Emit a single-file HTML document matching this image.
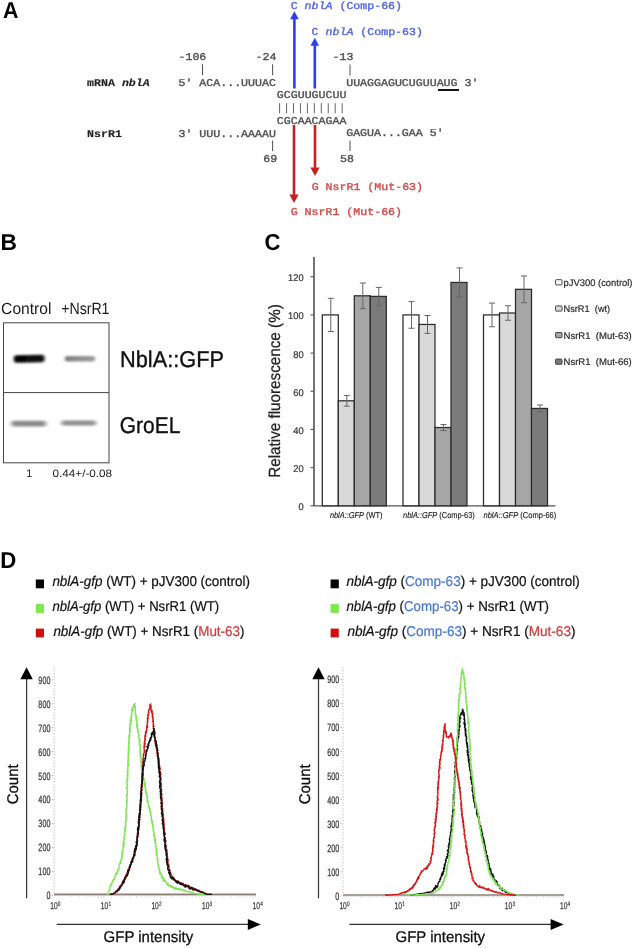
<!DOCTYPE html>
<html><head><meta charset="utf-8"><style>
html,body{margin:0;padding:0;background:#fff;}
svg{display:block;text-rendering:geometricPrecision;filter:blur(0.45px);}
</style></head><body>
<svg width="636" height="948" viewBox="0 0 636 948">
<rect width="636" height="948" fill="#fff"/>
<text x="0" y="0" font-family="'Liberation Sans', sans-serif" font-size="23" fill="#000" font-weight="bold" transform="translate(2.9,17.8) scale(0.93,1)">A</text>
<text x="0" y="0" font-family="'Liberation Sans', sans-serif" font-size="23" fill="#000" font-weight="bold" transform="translate(0.5,250.0) scale(0.99,1)">B</text>
<text x="0" y="0" font-family="'Liberation Sans', sans-serif" font-size="23" fill="#000" font-weight="bold" transform="translate(264.6,249.7) scale(0.96,1)">C</text>
<text x="0" y="0" font-family="'Liberation Sans', sans-serif" font-size="23" fill="#000" font-weight="bold" transform="translate(0.3,568.2) scale(0.965,1)">D</text>
<text x="0" y="0" font-family="'Liberation Mono', monospace" font-size="11.6" fill="#5266e0" stroke="#5266e0" stroke-width="0.4" transform="translate(290.7,8.9) scale(1,0.9)">C <tspan font-style="italic">nblA</tspan> (Comp-66)</text>
<text x="0" y="0" font-family="'Liberation Mono', monospace" font-size="11.6" fill="#5266e0" stroke="#5266e0" stroke-width="0.4" transform="translate(311.6,34.7) scale(1,0.9)">C <tspan font-style="italic">nblA</tspan> (Comp-63)</text>
<text x="0" y="0" font-family="'Liberation Mono', monospace" font-size="11.6" fill="#505050" stroke="#505050" stroke-width="0.4" transform="translate(178.5,59.6) scale(1,0.9)">-106</text>
<text x="0" y="0" font-family="'Liberation Mono', monospace" font-size="11.6" fill="#505050" stroke="#505050" stroke-width="0.4" transform="translate(255.5,59.6) scale(1,0.9)">-24</text>
<text x="0" y="0" font-family="'Liberation Mono', monospace" font-size="11.6" fill="#505050" stroke="#505050" stroke-width="0.4" transform="translate(332.5,60.0) scale(1,0.9)">-13</text>
<line x1="202.5" y1="64.3" x2="202.5" y2="75.2" stroke="#505050" stroke-width="1"/>
<line x1="272.6" y1="64.3" x2="272.6" y2="75.2" stroke="#505050" stroke-width="1"/>
<line x1="350" y1="64.6" x2="350" y2="75.5" stroke="#505050" stroke-width="1"/>
<line x1="272.6" y1="140.6" x2="272.6" y2="151" stroke="#505050" stroke-width="1"/>
<line x1="350" y1="140.6" x2="350" y2="151" stroke="#505050" stroke-width="1"/>
<text x="0" y="0" font-family="'Liberation Mono', monospace" font-size="11.6" fill="#222" font-weight="bold" stroke-opacity="0.4" stroke="#222" stroke-width="0.4" transform="translate(87.1,85.8) scale(1,0.9)">mRNA <tspan font-style="italic">nblA</tspan></text>
<text x="0" y="0" font-family="'Liberation Mono', monospace" font-size="11.6" fill="#505050" stroke="#505050" stroke-width="0.4" transform="translate(178.5,85.8) scale(1,0.9)">5' ACA...UUUAC</text>
<text x="0" y="0" font-family="'Liberation Mono', monospace" font-size="11.6" fill="#505050" stroke="#505050" stroke-width="0.4" transform="translate(346.2,85.5) scale(1,0.9)">UUAGGAGUCUGUUAUG 3'</text>
<rect x="438" y="89" width="21" height="2" fill="#111"/>
<text x="0" y="0" font-family="'Liberation Mono', monospace" font-size="11.6" fill="#505050" stroke="#505050" stroke-width="0.4" transform="translate(276.8,98.0) scale(1,0.9)">GCGUUGUCUU</text>
<line x1="279.60" y1="103.2" x2="279.60" y2="113.3" stroke="#666" stroke-width="1"/>
<line x1="286.55" y1="103.2" x2="286.55" y2="113.3" stroke="#666" stroke-width="1"/>
<line x1="293.50" y1="103.2" x2="293.50" y2="113.3" stroke="#666" stroke-width="1"/>
<line x1="300.45" y1="103.2" x2="300.45" y2="113.3" stroke="#666" stroke-width="1"/>
<line x1="307.40" y1="103.2" x2="307.40" y2="113.3" stroke="#666" stroke-width="1"/>
<line x1="314.35" y1="103.2" x2="314.35" y2="113.3" stroke="#666" stroke-width="1"/>
<line x1="321.30" y1="103.2" x2="321.30" y2="113.3" stroke="#666" stroke-width="1"/>
<line x1="328.25" y1="103.2" x2="328.25" y2="113.3" stroke="#666" stroke-width="1"/>
<line x1="335.20" y1="103.2" x2="335.20" y2="113.3" stroke="#666" stroke-width="1"/>
<line x1="342.15" y1="103.2" x2="342.15" y2="113.3" stroke="#666" stroke-width="1"/>
<text x="0" y="0" font-family="'Liberation Mono', monospace" font-size="11.6" fill="#505050" stroke="#505050" stroke-width="0.4" transform="translate(276.8,123.7) scale(1,0.9)">CGCAACAGAA</text>
<text x="0" y="0" font-family="'Liberation Mono', monospace" font-size="11.6" fill="#222" font-weight="bold" stroke-opacity="0.4" stroke="#222" stroke-width="0.4" transform="translate(87.1,136.5) scale(1,0.9)">NsrR1</text>
<text x="0" y="0" font-family="'Liberation Mono', monospace" font-size="11.6" fill="#505050" stroke="#505050" stroke-width="0.4" transform="translate(178.5,136.8) scale(1,0.9)">3' UUU...AAAAU</text>
<text x="0" y="0" font-family="'Liberation Mono', monospace" font-size="11.6" fill="#505050" stroke="#505050" stroke-width="0.4" transform="translate(346.2,136.4) scale(1,0.9)">GAGUA...GAA 5'</text>
<text x="0" y="0" font-family="'Liberation Mono', monospace" font-size="11.6" fill="#505050" stroke="#505050" stroke-width="0.4" transform="translate(263.2,161.6) scale(1,0.9)">69</text>
<text x="0" y="0" font-family="'Liberation Mono', monospace" font-size="11.6" fill="#505050" stroke="#505050" stroke-width="0.4" transform="translate(340.0,161.6) scale(1,0.9)">58</text>
<text x="0" y="0" font-family="'Liberation Mono', monospace" font-size="11.6" fill="#d44848" stroke="#d44848" stroke-width="0.4" transform="translate(311.7,190.0) scale(1,0.9)">G NsrR1 (Mut-63)</text>
<text x="0" y="0" font-family="'Liberation Mono', monospace" font-size="11.6" fill="#d44848" stroke="#d44848" stroke-width="0.4" transform="translate(290.7,215.0) scale(1,0.9)">G NsrR1 (Mut-66)</text>
<line x1="294.4" y1="88.5" x2="294.4" y2="18.8" stroke="#2a3ff0" stroke-width="2.6"/><polygon points="290.09999999999997,19.3 298.7,19.3 294.4,11.3" fill="#2a3ff0"/>
<line x1="314.8" y1="88.5" x2="314.8" y2="45.2" stroke="#2a3ff0" stroke-width="2.6"/><polygon points="310.5,45.7 319.1,45.7 314.8,37.7" fill="#2a3ff0"/>
<line x1="294.0" y1="125.0" x2="294.0" y2="194.9" stroke="#c81e1e" stroke-width="2.6"/><polygon points="289.4,194.4 298.6,194.4 294.0,203.0" fill="#c81e1e"/>
<line x1="315.0" y1="125.0" x2="315.0" y2="167.9" stroke="#c81e1e" stroke-width="2.6"/><polygon points="310.4,167.4 319.6,167.4 315.0,176.0" fill="#c81e1e"/>
<text x="1.1" y="314.0" font-family="'Liberation Sans', sans-serif" font-size="16.2" fill="#1a1a1a" textLength="50.4" lengthAdjust="spacingAndGlyphs">Control</text>
<text x="61.2" y="314.0" font-family="'Liberation Sans', sans-serif" font-size="16.2" fill="#1a1a1a" textLength="48.3" lengthAdjust="spacingAndGlyphs">+NsrR1</text>
<defs><filter id="blur1" x="-50%" y="-100%" width="200%" height="300%"><feGaussianBlur stdDeviation="1.6 1.3"/></filter><filter id="blur2" x="-50%" y="-100%" width="200%" height="300%"><feGaussianBlur stdDeviation="2.0 1.2"/></filter></defs>
<rect x="3.5" y="322.8" width="105.5" height="140" fill="#fff" stroke="#444" stroke-width="1"/>
<line x1="3.5" y1="392.6" x2="109" y2="392.6" stroke="#444" stroke-width="1"/>
<defs><linearGradient id="g2" x1="0" x2="1" y1="0" y2="0"><stop offset="0" stop-color="#7a7a7a"/><stop offset="0.35" stop-color="#8c8c8c"/><stop offset="1" stop-color="#9a9a9a"/></linearGradient><linearGradient id="g1" x1="0" x2="1" y1="0" y2="0"><stop offset="0" stop-color="#000"/><stop offset="1" stop-color="#111"/></linearGradient></defs>
<rect x="13.8" y="355.0" width="30.8" height="7.6" rx="3" fill="url(#g1)" filter="url(#blur1)" transform="rotate(-1.2 29 359)"/>
<rect x="64.8" y="356.0" width="30.4" height="5.6" rx="2.5" fill="url(#g2)" filter="url(#blur1)"/>
<rect x="11.5" y="420.8" width="34.5" height="5.6" rx="2" fill="#8a8a8a" filter="url(#blur2)"/>
<rect x="61.5" y="420.4" width="34.5" height="5.2" rx="2" fill="#8e8e8e" filter="url(#blur2)"/>
<text x="120.0" y="366.7" font-family="'Liberation Sans', sans-serif" font-size="22.8" fill="#111" textLength="104" lengthAdjust="spacingAndGlyphs" stroke="#111" stroke-width="0.35">NblA::GFP</text>
<text x="119.8" y="432.8" font-family="'Liberation Sans', sans-serif" font-size="22.8" fill="#111" textLength="60.5" lengthAdjust="spacingAndGlyphs" stroke="#111" stroke-width="0.35">GroEL</text>
<text x="26.3" y="477.0" font-family="'Liberation Sans', sans-serif" font-size="10.8" fill="#222">1</text>
<text x="52.6" y="477.0" font-family="'Liberation Sans', sans-serif" font-size="10.8" fill="#222" textLength="59.5" lengthAdjust="spacingAndGlyphs">0.44+/-0.08</text>
<line x1="314" y1="257" x2="314" y2="505.8" stroke="#5a5a5a" stroke-width="1.7"/>
<line x1="313.7" y1="505.8" x2="555.5" y2="505.8" stroke="#555" stroke-width="1.2"/>
<line x1="310.5" y1="505.80" x2="313.7" y2="505.80" stroke="#555" stroke-width="1.1"/>
<text x="303.6" y="510.3" font-family="'Liberation Sans', sans-serif" font-size="9.8" fill="#333" textLength="5.2" lengthAdjust="spacingAndGlyphs" text-anchor="end" stroke="#333" stroke-width="0.2">0</text>
<line x1="310.5" y1="467.62" x2="313.7" y2="467.62" stroke="#555" stroke-width="1.1"/>
<text x="303.6" y="472.12" font-family="'Liberation Sans', sans-serif" font-size="9.8" fill="#333" textLength="10.4" lengthAdjust="spacingAndGlyphs" text-anchor="end" stroke="#333" stroke-width="0.2">20</text>
<line x1="310.5" y1="429.44" x2="313.7" y2="429.44" stroke="#555" stroke-width="1.1"/>
<text x="303.6" y="433.94" font-family="'Liberation Sans', sans-serif" font-size="9.8" fill="#333" textLength="10.4" lengthAdjust="spacingAndGlyphs" text-anchor="end" stroke="#333" stroke-width="0.2">40</text>
<line x1="310.5" y1="391.26" x2="313.7" y2="391.26" stroke="#555" stroke-width="1.1"/>
<text x="303.6" y="395.76" font-family="'Liberation Sans', sans-serif" font-size="9.8" fill="#333" textLength="10.4" lengthAdjust="spacingAndGlyphs" text-anchor="end" stroke="#333" stroke-width="0.2">60</text>
<line x1="310.5" y1="353.08" x2="313.7" y2="353.08" stroke="#555" stroke-width="1.1"/>
<text x="303.6" y="357.58" font-family="'Liberation Sans', sans-serif" font-size="9.8" fill="#333" textLength="10.4" lengthAdjust="spacingAndGlyphs" text-anchor="end" stroke="#333" stroke-width="0.2">80</text>
<line x1="310.5" y1="314.90" x2="313.7" y2="314.90" stroke="#555" stroke-width="1.1"/>
<text x="303.6" y="319.4" font-family="'Liberation Sans', sans-serif" font-size="9.8" fill="#333" textLength="15.600000000000001" lengthAdjust="spacingAndGlyphs" text-anchor="end" stroke="#333" stroke-width="0.2">100</text>
<line x1="310.5" y1="276.72" x2="313.7" y2="276.72" stroke="#555" stroke-width="1.1"/>
<text x="303.6" y="281.22" font-family="'Liberation Sans', sans-serif" font-size="9.8" fill="#333" textLength="15.600000000000001" lengthAdjust="spacingAndGlyphs" text-anchor="end" stroke="#333" stroke-width="0.2">120</text>
<text x="0" y="0" font-family="'Liberation Sans', sans-serif" font-size="16.2" fill="#222" textLength="173.5" lengthAdjust="spacingAndGlyphs" text-anchor="middle" stroke="#222" stroke-width="0.25" transform="translate(279.6,391) rotate(-90)">Relative fluorescence (%)</text>
<rect x="322.30" y="314.90" width="16.0" height="190.90" fill="#ffffff" stroke="#2a2a2a" stroke-width="1.25"/>
<rect x="338.30" y="400.81" width="16.0" height="105.00" fill="#d9d9d9" stroke="#2a2a2a" stroke-width="1.25"/>
<rect x="354.30" y="295.81" width="16.0" height="209.99" fill="#a6a6a6" stroke="#2a2a2a" stroke-width="1.25"/>
<rect x="370.30" y="296.38" width="16.0" height="209.42" fill="#7b7b7b" stroke="#2a2a2a" stroke-width="1.25"/>
<rect x="403.00" y="314.90" width="16.0" height="190.90" fill="#ffffff" stroke="#2a2a2a" stroke-width="1.25"/>
<rect x="419.00" y="324.45" width="16.0" height="181.35" fill="#d9d9d9" stroke="#2a2a2a" stroke-width="1.25"/>
<rect x="435.00" y="427.53" width="16.0" height="78.27" fill="#a6a6a6" stroke="#2a2a2a" stroke-width="1.25"/>
<rect x="451.00" y="282.45" width="16.0" height="223.35" fill="#7b7b7b" stroke="#2a2a2a" stroke-width="1.25"/>
<rect x="483.50" y="314.90" width="16.0" height="190.90" fill="#ffffff" stroke="#2a2a2a" stroke-width="1.25"/>
<rect x="499.50" y="312.99" width="16.0" height="192.81" fill="#d9d9d9" stroke="#2a2a2a" stroke-width="1.25"/>
<rect x="515.50" y="289.32" width="16.0" height="216.48" fill="#a6a6a6" stroke="#2a2a2a" stroke-width="1.25"/>
<rect x="531.50" y="408.44" width="16.0" height="97.36" fill="#7b7b7b" stroke="#2a2a2a" stroke-width="1.25"/>
<path d="M330.80 298.29V331.51M327.80 298.29H333.80M327.80 331.51H333.80" stroke="#666" stroke-width="1" fill="none"/>
<path d="M346.80 395.46V406.15M343.80 395.46H349.80M343.80 406.15H349.80" stroke="#666" stroke-width="1" fill="none"/>
<path d="M362.80 283.02V308.60M359.80 283.02H365.80M359.80 308.60H365.80" stroke="#666" stroke-width="1" fill="none"/>
<path d="M378.80 287.41V305.36M375.80 287.41H381.80M375.80 305.36H381.80" stroke="#666" stroke-width="1" fill="none"/>
<path d="M411.50 301.54V328.26M408.50 301.54H414.50M408.50 328.26H414.50" stroke="#666" stroke-width="1" fill="none"/>
<path d="M427.50 315.47V333.42M424.50 315.47H430.50M424.50 333.42H430.50" stroke="#666" stroke-width="1" fill="none"/>
<path d="M443.50 424.48V430.59M440.50 424.48H446.50M440.50 430.59H446.50" stroke="#666" stroke-width="1" fill="none"/>
<path d="M459.50 267.94V296.96M456.50 267.94H462.50M456.50 296.96H462.50" stroke="#666" stroke-width="1" fill="none"/>
<path d="M492.00 303.06V326.74M489.00 303.06H495.00M489.00 326.74H495.00" stroke="#666" stroke-width="1" fill="none"/>
<path d="M508.00 305.74V320.25M505.00 305.74H511.00M505.00 320.25H511.00" stroke="#666" stroke-width="1" fill="none"/>
<path d="M524.00 275.96V302.68M521.00 275.96H527.00M521.00 302.68H527.00" stroke="#666" stroke-width="1" fill="none"/>
<path d="M540.00 405.00V411.88M537.00 405.00H543.00M537.00 411.88H543.00" stroke="#666" stroke-width="1" fill="none"/>
<rect x="555.6" y="279.7" width="6.4" height="5.2" rx="0.6" fill="#ffffff" stroke="#444" stroke-width="1"/>
<text x="563.5" y="286.0" font-family="'Liberation Sans', sans-serif" font-size="9.6" fill="#2a2a2a" textLength="69" lengthAdjust="spacingAndGlyphs" stroke="#2a2a2a" stroke-width="0.2">pJV300 (control)</text>
<rect x="555.6" y="305.9" width="6.4" height="5.2" rx="0.6" fill="#d9d9d9" stroke="#444" stroke-width="1"/>
<text x="563.5" y="312.2" font-family="'Liberation Sans', sans-serif" font-size="9.6" fill="#2a2a2a" textLength="46.7" lengthAdjust="spacingAndGlyphs" stroke="#2a2a2a" stroke-width="0.2">NsrR1&#160;&#160;(wt)</text>
<rect x="555.6" y="332.5" width="6.4" height="5.2" rx="0.6" fill="#a6a6a6" stroke="#444" stroke-width="1"/>
<text x="563.5" y="339.0" font-family="'Liberation Sans', sans-serif" font-size="9.6" fill="#2a2a2a" textLength="68.3" lengthAdjust="spacingAndGlyphs" stroke="#2a2a2a" stroke-width="0.2">NsrR1&#160;&#160;(Mut-63)</text>
<rect x="555.6" y="359.1" width="6.4" height="5.2" rx="0.6" fill="#7b7b7b" stroke="#444" stroke-width="1"/>
<text x="563.5" y="365.3" font-family="'Liberation Sans', sans-serif" font-size="9.6" fill="#2a2a2a" textLength="68.3" lengthAdjust="spacingAndGlyphs" stroke="#2a2a2a" stroke-width="0.2">NsrR1&#160;&#160;(Mut-66)</text>
<text x="329.9" y="518.0" font-family="'Liberation Sans', sans-serif" font-size="8.6" fill="#222" textLength="52.5" lengthAdjust="spacingAndGlyphs" stroke="#222" stroke-width="0.15"><tspan font-style="italic">nblA::GFP</tspan> (WT)</text>
<text x="403.0" y="518.0" font-family="'Liberation Sans', sans-serif" font-size="8.6" fill="#222" textLength="71.8" lengthAdjust="spacingAndGlyphs" stroke="#222" stroke-width="0.15"><tspan font-style="italic">nblA::GFP</tspan> (Comp-63)</text>
<text x="483.5" y="518.0" font-family="'Liberation Sans', sans-serif" font-size="8.6" fill="#222" textLength="72.8" lengthAdjust="spacingAndGlyphs" stroke="#222" stroke-width="0.15"><tspan font-style="italic">nblA::GFP</tspan> (Comp-66)</text>
<rect x="35.800000000000004" y="579.5" width="8.2" height="8.8" fill="#000"/>
<text x="52.4" y="586.4" font-family="'Liberation Sans', sans-serif" font-size="14.2" fill="#111" textLength="197.5" lengthAdjust="spacingAndGlyphs" stroke="#111" stroke-width="0.22"><tspan font-style="italic">nblA-gfp</tspan> (WT) + pJV300 (control)</text>
<rect x="35.800000000000004" y="604.1" width="8.2" height="8.8" fill="#7de84a"/>
<text x="52.4" y="611.0" font-family="'Liberation Sans', sans-serif" font-size="14.2" fill="#111" textLength="166.8" lengthAdjust="spacingAndGlyphs" stroke="#111" stroke-width="0.22"><tspan font-style="italic">nblA-gfp</tspan> (WT) + NsrR1 (WT)</text>
<rect x="35.800000000000004" y="628.6" width="8.2" height="8.8" fill="#d01010"/>
<text x="53.4" y="635.5" font-family="'Liberation Sans', sans-serif" font-size="14.2" fill="#111" textLength="191.0" lengthAdjust="spacingAndGlyphs" stroke="#111" stroke-width="0.22"><tspan font-style="italic">nblA-gfp</tspan> (WT) + NsrR1 (<tspan fill="#d23a3a" stroke="#d23a3a">Mut-63</tspan>)</text>
<rect x="330.6" y="579.5" width="8.2" height="8.8" fill="#000"/>
<text x="346.4" y="586.4" font-family="'Liberation Sans', sans-serif" font-size="14.2" fill="#111" textLength="233.4" lengthAdjust="spacingAndGlyphs" stroke="#111" stroke-width="0.22"><tspan font-style="italic">nblA-gfp</tspan> (<tspan fill="#4a78d8" stroke="#4a78d8">Comp-63</tspan>) + pJV300 (control)</text>
<rect x="330.6" y="604.1" width="8.2" height="8.8" fill="#7de84a"/>
<text x="346.4" y="611.0" font-family="'Liberation Sans', sans-serif" font-size="14.2" fill="#111" textLength="202.6" lengthAdjust="spacingAndGlyphs" stroke="#111" stroke-width="0.22"><tspan font-style="italic">nblA-gfp</tspan> (<tspan fill="#4a78d8" stroke="#4a78d8">Comp-63</tspan>) + NsrR1 (WT)</text>
<rect x="330.6" y="628.6" width="8.2" height="8.8" fill="#d01010"/>
<text x="347.4" y="635.5" font-family="'Liberation Sans', sans-serif" font-size="14.2" fill="#111" textLength="228.1" lengthAdjust="spacingAndGlyphs" stroke="#111" stroke-width="0.22"><tspan font-style="italic">nblA-gfp</tspan> (<tspan fill="#4a78d8" stroke="#4a78d8">Comp-63</tspan>) + NsrR1 (<tspan fill="#d23a3a" stroke="#d23a3a">Mut-63</tspan>)</text>
<line x1="26.6" y1="898.3" x2="26.6" y2="676" stroke="#3a3a3a" stroke-width="1.25"/>
<polygon points="20.400000000000002,679.2 32.800000000000004,679.2 26.6,667.2" fill="#000"/>
<text x="0" y="0" font-family="'Liberation Sans', sans-serif" font-size="15.5" fill="#111" textLength="40" lengthAdjust="spacingAndGlyphs" text-anchor="middle" stroke="#111" stroke-width="0.3" transform="translate(18.200000000000003,784.3) rotate(-90)">Count</text>
<line x1="54.1" y1="667" x2="54.1" y2="894.4" stroke="#c8c8c8" stroke-width="1" stroke-dasharray="1.5 1.5"/>
<line x1="51.5" y1="895.30" x2="53.300000000000004" y2="895.30" stroke="#bbb" stroke-width="0.9"/>
<text x="0" y="0" font-family="'Liberation Sans', sans-serif" font-size="10.6" fill="#3a3a3a" text-anchor="end" stroke="#3a3a3a" stroke-width="0.25" transform="translate(50.4,899.20) scale(0.68,1)">0</text>
<line x1="51.5" y1="871.36" x2="53.300000000000004" y2="871.36" stroke="#bbb" stroke-width="0.9"/>
<text x="0" y="0" font-family="'Liberation Sans', sans-serif" font-size="10.6" fill="#3a3a3a" text-anchor="end" stroke="#3a3a3a" stroke-width="0.25" transform="translate(50.4,875.26) scale(0.68,1)">100</text>
<line x1="51.5" y1="847.42" x2="53.300000000000004" y2="847.42" stroke="#bbb" stroke-width="0.9"/>
<text x="0" y="0" font-family="'Liberation Sans', sans-serif" font-size="10.6" fill="#3a3a3a" text-anchor="end" stroke="#3a3a3a" stroke-width="0.25" transform="translate(50.4,851.32) scale(0.68,1)">200</text>
<line x1="51.5" y1="823.48" x2="53.300000000000004" y2="823.48" stroke="#bbb" stroke-width="0.9"/>
<text x="0" y="0" font-family="'Liberation Sans', sans-serif" font-size="10.6" fill="#3a3a3a" text-anchor="end" stroke="#3a3a3a" stroke-width="0.25" transform="translate(50.4,827.38) scale(0.68,1)">300</text>
<line x1="51.5" y1="799.54" x2="53.300000000000004" y2="799.54" stroke="#bbb" stroke-width="0.9"/>
<text x="0" y="0" font-family="'Liberation Sans', sans-serif" font-size="10.6" fill="#3a3a3a" text-anchor="end" stroke="#3a3a3a" stroke-width="0.25" transform="translate(50.4,803.44) scale(0.68,1)">400</text>
<line x1="51.5" y1="775.60" x2="53.300000000000004" y2="775.60" stroke="#bbb" stroke-width="0.9"/>
<text x="0" y="0" font-family="'Liberation Sans', sans-serif" font-size="10.6" fill="#3a3a3a" text-anchor="end" stroke="#3a3a3a" stroke-width="0.25" transform="translate(50.4,779.50) scale(0.68,1)">500</text>
<line x1="51.5" y1="751.66" x2="53.300000000000004" y2="751.66" stroke="#bbb" stroke-width="0.9"/>
<text x="0" y="0" font-family="'Liberation Sans', sans-serif" font-size="10.6" fill="#3a3a3a" text-anchor="end" stroke="#3a3a3a" stroke-width="0.25" transform="translate(50.4,755.56) scale(0.68,1)">600</text>
<line x1="51.5" y1="727.72" x2="53.300000000000004" y2="727.72" stroke="#bbb" stroke-width="0.9"/>
<text x="0" y="0" font-family="'Liberation Sans', sans-serif" font-size="10.6" fill="#3a3a3a" text-anchor="end" stroke="#3a3a3a" stroke-width="0.25" transform="translate(50.4,731.62) scale(0.68,1)">700</text>
<line x1="51.5" y1="703.78" x2="53.300000000000004" y2="703.78" stroke="#bbb" stroke-width="0.9"/>
<text x="0" y="0" font-family="'Liberation Sans', sans-serif" font-size="10.6" fill="#3a3a3a" text-anchor="end" stroke="#3a3a3a" stroke-width="0.25" transform="translate(50.4,707.68) scale(0.68,1)">800</text>
<line x1="51.5" y1="679.84" x2="53.300000000000004" y2="679.84" stroke="#bbb" stroke-width="0.9"/>
<text x="0" y="0" font-family="'Liberation Sans', sans-serif" font-size="10.6" fill="#3a3a3a" text-anchor="end" stroke="#3a3a3a" stroke-width="0.25" transform="translate(50.4,683.74) scale(0.68,1)">900</text>
<line x1="54.1" y1="895.6" x2="256" y2="895.6" stroke="#e0e0e0" stroke-width="1"/>
<line x1="70.83" y1="895.9" x2="70.83" y2="897.6" stroke="#d8d8d8" stroke-width="0.8"/>
<line x1="79.74" y1="895.9" x2="79.74" y2="897.6" stroke="#d8d8d8" stroke-width="0.8"/>
<line x1="86.06" y1="895.9" x2="86.06" y2="897.6" stroke="#d8d8d8" stroke-width="0.8"/>
<line x1="90.97" y1="895.9" x2="90.97" y2="897.6" stroke="#d8d8d8" stroke-width="0.8"/>
<line x1="94.97" y1="895.9" x2="94.97" y2="897.6" stroke="#d8d8d8" stroke-width="0.8"/>
<line x1="98.36" y1="895.9" x2="98.36" y2="897.6" stroke="#d8d8d8" stroke-width="0.8"/>
<line x1="101.30" y1="895.9" x2="101.30" y2="897.6" stroke="#d8d8d8" stroke-width="0.8"/>
<line x1="103.88" y1="895.9" x2="103.88" y2="897.6" stroke="#d8d8d8" stroke-width="0.8"/>
<line x1="121.43" y1="895.9" x2="121.43" y2="897.6" stroke="#d8d8d8" stroke-width="0.8"/>
<line x1="130.34" y1="895.9" x2="130.34" y2="897.6" stroke="#d8d8d8" stroke-width="0.8"/>
<line x1="136.66" y1="895.9" x2="136.66" y2="897.6" stroke="#d8d8d8" stroke-width="0.8"/>
<line x1="141.57" y1="895.9" x2="141.57" y2="897.6" stroke="#d8d8d8" stroke-width="0.8"/>
<line x1="145.57" y1="895.9" x2="145.57" y2="897.6" stroke="#d8d8d8" stroke-width="0.8"/>
<line x1="148.96" y1="895.9" x2="148.96" y2="897.6" stroke="#d8d8d8" stroke-width="0.8"/>
<line x1="151.90" y1="895.9" x2="151.90" y2="897.6" stroke="#d8d8d8" stroke-width="0.8"/>
<line x1="154.48" y1="895.9" x2="154.48" y2="897.6" stroke="#d8d8d8" stroke-width="0.8"/>
<line x1="172.03" y1="895.9" x2="172.03" y2="897.6" stroke="#d8d8d8" stroke-width="0.8"/>
<line x1="180.94" y1="895.9" x2="180.94" y2="897.6" stroke="#d8d8d8" stroke-width="0.8"/>
<line x1="187.26" y1="895.9" x2="187.26" y2="897.6" stroke="#d8d8d8" stroke-width="0.8"/>
<line x1="192.17" y1="895.9" x2="192.17" y2="897.6" stroke="#d8d8d8" stroke-width="0.8"/>
<line x1="196.17" y1="895.9" x2="196.17" y2="897.6" stroke="#d8d8d8" stroke-width="0.8"/>
<line x1="199.56" y1="895.9" x2="199.56" y2="897.6" stroke="#d8d8d8" stroke-width="0.8"/>
<line x1="202.50" y1="895.9" x2="202.50" y2="897.6" stroke="#d8d8d8" stroke-width="0.8"/>
<line x1="205.08" y1="895.9" x2="205.08" y2="897.6" stroke="#d8d8d8" stroke-width="0.8"/>
<line x1="222.63" y1="895.9" x2="222.63" y2="897.6" stroke="#d8d8d8" stroke-width="0.8"/>
<line x1="231.54" y1="895.9" x2="231.54" y2="897.6" stroke="#d8d8d8" stroke-width="0.8"/>
<line x1="237.86" y1="895.9" x2="237.86" y2="897.6" stroke="#d8d8d8" stroke-width="0.8"/>
<line x1="242.77" y1="895.9" x2="242.77" y2="897.6" stroke="#d8d8d8" stroke-width="0.8"/>
<line x1="246.77" y1="895.9" x2="246.77" y2="897.6" stroke="#d8d8d8" stroke-width="0.8"/>
<line x1="250.16" y1="895.9" x2="250.16" y2="897.6" stroke="#d8d8d8" stroke-width="0.8"/>
<line x1="253.10" y1="895.9" x2="253.10" y2="897.6" stroke="#d8d8d8" stroke-width="0.8"/>
<line x1="255.68" y1="895.9" x2="255.68" y2="897.6" stroke="#d8d8d8" stroke-width="0.8"/>
<line x1="54.1" y1="894.4" x2="256" y2="894.4" stroke="#8c8078" stroke-width="1.6"/>
<text x="0" y="0" font-family="'Liberation Sans', sans-serif" font-size="9.8" fill="#3a3a3a" text-anchor="end" stroke="#3a3a3a" stroke-width="0.25" transform="translate(57.60,909.3) scale(0.68,1)">10</text>
<text x="0" y="0" font-family="'Liberation Sans', sans-serif" font-size="6.6" fill="#3a3a3a" stroke="#3a3a3a" stroke-width="0.2" transform="translate(57.80,906.0) scale(0.72,1)">0</text>
<text x="0" y="0" font-family="'Liberation Sans', sans-serif" font-size="9.8" fill="#3a3a3a" text-anchor="end" stroke="#3a3a3a" stroke-width="0.25" transform="translate(108.20,909.3) scale(0.68,1)">10</text>
<text x="0" y="0" font-family="'Liberation Sans', sans-serif" font-size="6.6" fill="#3a3a3a" stroke="#3a3a3a" stroke-width="0.2" transform="translate(108.40,906.0) scale(0.72,1)">1</text>
<text x="0" y="0" font-family="'Liberation Sans', sans-serif" font-size="9.8" fill="#3a3a3a" text-anchor="end" stroke="#3a3a3a" stroke-width="0.25" transform="translate(158.80,909.3) scale(0.68,1)">10</text>
<text x="0" y="0" font-family="'Liberation Sans', sans-serif" font-size="6.6" fill="#3a3a3a" stroke="#3a3a3a" stroke-width="0.2" transform="translate(159.00,906.0) scale(0.72,1)">2</text>
<text x="0" y="0" font-family="'Liberation Sans', sans-serif" font-size="9.8" fill="#3a3a3a" text-anchor="end" stroke="#3a3a3a" stroke-width="0.25" transform="translate(209.40,909.3) scale(0.68,1)">10</text>
<text x="0" y="0" font-family="'Liberation Sans', sans-serif" font-size="6.6" fill="#3a3a3a" stroke="#3a3a3a" stroke-width="0.2" transform="translate(209.60,906.0) scale(0.72,1)">3</text>
<text x="0" y="0" font-family="'Liberation Sans', sans-serif" font-size="9.8" fill="#3a3a3a" text-anchor="end" stroke="#3a3a3a" stroke-width="0.25" transform="translate(260.00,909.3) scale(0.68,1)">10</text>
<text x="0" y="0" font-family="'Liberation Sans', sans-serif" font-size="6.6" fill="#3a3a3a" stroke="#3a3a3a" stroke-width="0.2" transform="translate(260.20,906.0) scale(0.72,1)">4</text>
<line x1="56.6" y1="924.4" x2="249.8" y2="924.4" stroke="#333" stroke-width="1.3"/>
<polygon points="247.8,918.9 247.8,929.9 260.8,924.4" fill="#000"/>
<text x="103.6" y="942.0" font-family="'Liberation Sans', sans-serif" font-size="15.5" fill="#111" textLength="89.6" lengthAdjust="spacingAndGlyphs" stroke="#111" stroke-width="0.3">GFP intensity</text>
<line x1="318.5" y1="898.3" x2="318.5" y2="676" stroke="#3a3a3a" stroke-width="1.25"/>
<polygon points="312.3,679.2 324.7,679.2 318.5,667.2" fill="#000"/>
<text x="0" y="0" font-family="'Liberation Sans', sans-serif" font-size="15.5" fill="#111" textLength="40" lengthAdjust="spacingAndGlyphs" text-anchor="middle" stroke="#111" stroke-width="0.3" transform="translate(310.1,784.3) rotate(-90)">Count</text>
<line x1="343.0" y1="667" x2="343.0" y2="895.0" stroke="#c8c8c8" stroke-width="1" stroke-dasharray="1.5 1.5"/>
<line x1="340.4" y1="895.90" x2="342.2" y2="895.90" stroke="#bbb" stroke-width="0.9"/>
<text x="0" y="0" font-family="'Liberation Sans', sans-serif" font-size="10.6" fill="#3a3a3a" text-anchor="end" stroke="#3a3a3a" stroke-width="0.25" transform="translate(339.3,899.80) scale(0.68,1)">0</text>
<line x1="340.4" y1="871.85" x2="342.2" y2="871.85" stroke="#bbb" stroke-width="0.9"/>
<text x="0" y="0" font-family="'Liberation Sans', sans-serif" font-size="10.6" fill="#3a3a3a" text-anchor="end" stroke="#3a3a3a" stroke-width="0.25" transform="translate(339.3,875.75) scale(0.68,1)">100</text>
<line x1="340.4" y1="847.80" x2="342.2" y2="847.80" stroke="#bbb" stroke-width="0.9"/>
<text x="0" y="0" font-family="'Liberation Sans', sans-serif" font-size="10.6" fill="#3a3a3a" text-anchor="end" stroke="#3a3a3a" stroke-width="0.25" transform="translate(339.3,851.70) scale(0.68,1)">200</text>
<line x1="340.4" y1="823.75" x2="342.2" y2="823.75" stroke="#bbb" stroke-width="0.9"/>
<text x="0" y="0" font-family="'Liberation Sans', sans-serif" font-size="10.6" fill="#3a3a3a" text-anchor="end" stroke="#3a3a3a" stroke-width="0.25" transform="translate(339.3,827.65) scale(0.68,1)">300</text>
<line x1="340.4" y1="799.70" x2="342.2" y2="799.70" stroke="#bbb" stroke-width="0.9"/>
<text x="0" y="0" font-family="'Liberation Sans', sans-serif" font-size="10.6" fill="#3a3a3a" text-anchor="end" stroke="#3a3a3a" stroke-width="0.25" transform="translate(339.3,803.60) scale(0.68,1)">400</text>
<line x1="340.4" y1="775.65" x2="342.2" y2="775.65" stroke="#bbb" stroke-width="0.9"/>
<text x="0" y="0" font-family="'Liberation Sans', sans-serif" font-size="10.6" fill="#3a3a3a" text-anchor="end" stroke="#3a3a3a" stroke-width="0.25" transform="translate(339.3,779.55) scale(0.68,1)">500</text>
<line x1="340.4" y1="751.60" x2="342.2" y2="751.60" stroke="#bbb" stroke-width="0.9"/>
<text x="0" y="0" font-family="'Liberation Sans', sans-serif" font-size="10.6" fill="#3a3a3a" text-anchor="end" stroke="#3a3a3a" stroke-width="0.25" transform="translate(339.3,755.50) scale(0.68,1)">600</text>
<line x1="340.4" y1="727.55" x2="342.2" y2="727.55" stroke="#bbb" stroke-width="0.9"/>
<text x="0" y="0" font-family="'Liberation Sans', sans-serif" font-size="10.6" fill="#3a3a3a" text-anchor="end" stroke="#3a3a3a" stroke-width="0.25" transform="translate(339.3,731.45) scale(0.68,1)">700</text>
<line x1="340.4" y1="703.50" x2="342.2" y2="703.50" stroke="#bbb" stroke-width="0.9"/>
<text x="0" y="0" font-family="'Liberation Sans', sans-serif" font-size="10.6" fill="#3a3a3a" text-anchor="end" stroke="#3a3a3a" stroke-width="0.25" transform="translate(339.3,707.40) scale(0.68,1)">800</text>
<line x1="340.4" y1="679.45" x2="342.2" y2="679.45" stroke="#bbb" stroke-width="0.9"/>
<text x="0" y="0" font-family="'Liberation Sans', sans-serif" font-size="10.6" fill="#3a3a3a" text-anchor="end" stroke="#3a3a3a" stroke-width="0.25" transform="translate(339.3,683.35) scale(0.68,1)">900</text>
<line x1="343.0" y1="896.2" x2="564" y2="896.2" stroke="#e0e0e0" stroke-width="1"/>
<line x1="361.40" y1="896.5" x2="361.40" y2="898.2" stroke="#d8d8d8" stroke-width="0.8"/>
<line x1="371.11" y1="896.5" x2="371.11" y2="898.2" stroke="#d8d8d8" stroke-width="0.8"/>
<line x1="378.00" y1="896.5" x2="378.00" y2="898.2" stroke="#d8d8d8" stroke-width="0.8"/>
<line x1="383.35" y1="896.5" x2="383.35" y2="898.2" stroke="#d8d8d8" stroke-width="0.8"/>
<line x1="387.72" y1="896.5" x2="387.72" y2="898.2" stroke="#d8d8d8" stroke-width="0.8"/>
<line x1="391.41" y1="896.5" x2="391.41" y2="898.2" stroke="#d8d8d8" stroke-width="0.8"/>
<line x1="394.61" y1="896.5" x2="394.61" y2="898.2" stroke="#d8d8d8" stroke-width="0.8"/>
<line x1="397.43" y1="896.5" x2="397.43" y2="898.2" stroke="#d8d8d8" stroke-width="0.8"/>
<line x1="416.55" y1="896.5" x2="416.55" y2="898.2" stroke="#d8d8d8" stroke-width="0.8"/>
<line x1="426.26" y1="896.5" x2="426.26" y2="898.2" stroke="#d8d8d8" stroke-width="0.8"/>
<line x1="433.15" y1="896.5" x2="433.15" y2="898.2" stroke="#d8d8d8" stroke-width="0.8"/>
<line x1="438.50" y1="896.5" x2="438.50" y2="898.2" stroke="#d8d8d8" stroke-width="0.8"/>
<line x1="442.87" y1="896.5" x2="442.87" y2="898.2" stroke="#d8d8d8" stroke-width="0.8"/>
<line x1="446.56" y1="896.5" x2="446.56" y2="898.2" stroke="#d8d8d8" stroke-width="0.8"/>
<line x1="449.76" y1="896.5" x2="449.76" y2="898.2" stroke="#d8d8d8" stroke-width="0.8"/>
<line x1="452.58" y1="896.5" x2="452.58" y2="898.2" stroke="#d8d8d8" stroke-width="0.8"/>
<line x1="471.70" y1="896.5" x2="471.70" y2="898.2" stroke="#d8d8d8" stroke-width="0.8"/>
<line x1="481.41" y1="896.5" x2="481.41" y2="898.2" stroke="#d8d8d8" stroke-width="0.8"/>
<line x1="488.30" y1="896.5" x2="488.30" y2="898.2" stroke="#d8d8d8" stroke-width="0.8"/>
<line x1="493.65" y1="896.5" x2="493.65" y2="898.2" stroke="#d8d8d8" stroke-width="0.8"/>
<line x1="498.02" y1="896.5" x2="498.02" y2="898.2" stroke="#d8d8d8" stroke-width="0.8"/>
<line x1="501.71" y1="896.5" x2="501.71" y2="898.2" stroke="#d8d8d8" stroke-width="0.8"/>
<line x1="504.91" y1="896.5" x2="504.91" y2="898.2" stroke="#d8d8d8" stroke-width="0.8"/>
<line x1="507.73" y1="896.5" x2="507.73" y2="898.2" stroke="#d8d8d8" stroke-width="0.8"/>
<line x1="526.85" y1="896.5" x2="526.85" y2="898.2" stroke="#d8d8d8" stroke-width="0.8"/>
<line x1="536.56" y1="896.5" x2="536.56" y2="898.2" stroke="#d8d8d8" stroke-width="0.8"/>
<line x1="543.45" y1="896.5" x2="543.45" y2="898.2" stroke="#d8d8d8" stroke-width="0.8"/>
<line x1="548.80" y1="896.5" x2="548.80" y2="898.2" stroke="#d8d8d8" stroke-width="0.8"/>
<line x1="553.17" y1="896.5" x2="553.17" y2="898.2" stroke="#d8d8d8" stroke-width="0.8"/>
<line x1="556.86" y1="896.5" x2="556.86" y2="898.2" stroke="#d8d8d8" stroke-width="0.8"/>
<line x1="560.06" y1="896.5" x2="560.06" y2="898.2" stroke="#d8d8d8" stroke-width="0.8"/>
<line x1="562.88" y1="896.5" x2="562.88" y2="898.2" stroke="#d8d8d8" stroke-width="0.8"/>
<line x1="343.0" y1="895.0" x2="564" y2="895.0" stroke="#8c8078" stroke-width="1.6"/>
<text x="0" y="0" font-family="'Liberation Sans', sans-serif" font-size="9.8" fill="#3a3a3a" text-anchor="end" stroke="#3a3a3a" stroke-width="0.25" transform="translate(346.80,909.3) scale(0.68,1)">10</text>
<text x="0" y="0" font-family="'Liberation Sans', sans-serif" font-size="6.6" fill="#3a3a3a" stroke="#3a3a3a" stroke-width="0.2" transform="translate(347.00,906.0) scale(0.72,1)">0</text>
<text x="0" y="0" font-family="'Liberation Sans', sans-serif" font-size="9.8" fill="#3a3a3a" text-anchor="end" stroke="#3a3a3a" stroke-width="0.25" transform="translate(401.95,909.3) scale(0.68,1)">10</text>
<text x="0" y="0" font-family="'Liberation Sans', sans-serif" font-size="6.6" fill="#3a3a3a" stroke="#3a3a3a" stroke-width="0.2" transform="translate(402.15,906.0) scale(0.72,1)">1</text>
<text x="0" y="0" font-family="'Liberation Sans', sans-serif" font-size="9.8" fill="#3a3a3a" text-anchor="end" stroke="#3a3a3a" stroke-width="0.25" transform="translate(457.10,909.3) scale(0.68,1)">10</text>
<text x="0" y="0" font-family="'Liberation Sans', sans-serif" font-size="6.6" fill="#3a3a3a" stroke="#3a3a3a" stroke-width="0.2" transform="translate(457.30,906.0) scale(0.72,1)">2</text>
<text x="0" y="0" font-family="'Liberation Sans', sans-serif" font-size="9.8" fill="#3a3a3a" text-anchor="end" stroke="#3a3a3a" stroke-width="0.25" transform="translate(512.25,909.3) scale(0.68,1)">10</text>
<text x="0" y="0" font-family="'Liberation Sans', sans-serif" font-size="6.6" fill="#3a3a3a" stroke="#3a3a3a" stroke-width="0.2" transform="translate(512.45,906.0) scale(0.72,1)">3</text>
<text x="0" y="0" font-family="'Liberation Sans', sans-serif" font-size="9.8" fill="#3a3a3a" text-anchor="end" stroke="#3a3a3a" stroke-width="0.25" transform="translate(567.40,909.3) scale(0.68,1)">10</text>
<text x="0" y="0" font-family="'Liberation Sans', sans-serif" font-size="6.6" fill="#3a3a3a" stroke="#3a3a3a" stroke-width="0.2" transform="translate(567.60,906.0) scale(0.72,1)">4</text>
<line x1="349.3" y1="924.4" x2="552.6" y2="924.4" stroke="#333" stroke-width="1.3"/>
<polygon points="550.6,918.9 550.6,929.9 563.6,924.4" fill="#000"/>
<text x="395.5" y="942.0" font-family="'Liberation Sans', sans-serif" font-size="15.5" fill="#111" textLength="89.6" lengthAdjust="spacingAndGlyphs" stroke="#111" stroke-width="0.3">GFP intensity</text>
<path d="M107.00 894.40 L107.40 894.13 L107.80 893.87 L108.20 893.60 L108.27 893.02 L108.36 892.74 L108.61 892.18 L108.83 891.17 L108.94 890.57 L108.84 890.05 L109.57 890.07 L109.19 889.06 L110.05 889.58 L109.63 889.05 L109.35 889.58 L109.78 888.86 L109.72 886.71 L110.71 886.66 L110.57 885.91 L110.47 886.57 L110.24 885.91 L110.56 884.30 L110.97 885.35 L111.31 884.03 L111.11 883.93 L111.74 884.31 L111.80 882.57 L112.36 882.84 L111.86 882.91 L111.87 883.10 L112.84 881.34 L112.72 880.29 L113.15 879.61 L113.24 880.93 L113.13 880.79 L113.68 879.94 L113.72 879.25 L114.51 879.47 L114.38 878.18 L114.63 876.77 L115.19 877.77 L114.54 877.77 L115.21 876.31 L115.17 875.03 L114.96 874.97 L115.95 874.29 L115.53 874.05 L116.48 874.26 L116.18 873.11 L116.91 873.82 L117.09 874.05 L116.76 872.34 L117.53 872.12 L116.86 873.15 L117.16 870.86 L117.67 870.59 L117.61 871.03 L118.00 869.21 L118.31 869.65 L118.59 870.61 L118.64 869.12 L118.09 869.06 L119.10 869.16 L119.25 868.66 L118.90 867.06 L119.32 865.93 L118.77 865.39 L119.01 865.30 L119.02 865.18 L119.27 863.92 L119.65 863.72 L120.40 863.10 L119.66 864.07 L120.03 862.77 L119.89 862.59 L121.07 863.32 L120.59 861.96 L120.26 860.61 L120.59 860.78 L120.60 861.51 L121.68 859.14 L120.84 859.91 L120.83 859.50 L122.04 859.01 L121.76 859.37 L121.43 857.47 L121.99 856.79 L122.06 857.21 L121.46 856.27 L122.43 856.98 L122.28 856.62 L122.27 856.09 L122.07 854.21 L121.55 854.07 L121.91 852.83 L122.47 852.93 L122.24 854.15 L122.96 853.65 L122.27 853.24 L122.17 851.03 L122.21 850.52 L123.11 851.09 L122.67 851.16 L123.12 850.26 L123.02 848.44 L123.23 849.97 L122.93 849.13 L123.36 847.30 L123.44 847.22 L123.02 848.30 L123.75 846.48 L122.88 846.80 L122.92 844.92 L123.77 846.33 L123.86 844.06 L123.72 845.61 L123.66 843.64 L123.06 842.67 L123.87 844.23 L124.26 842.72 L124.23 842.05 L123.48 842.54 L123.62 840.71 L124.02 840.23 L123.86 839.83 L124.50 839.07 L124.00 839.16 L124.58 839.26 L124.64 838.42 L124.22 838.17 L123.65 837.77 L123.89 837.12 L124.68 835.63 L124.33 835.58 L124.48 836.46 L124.48 835.05 L124.84 835.15 L124.62 833.63 L124.32 833.52 L124.64 834.33 L124.99 833.37 L124.65 833.77 L124.77 832.60 L125.04 831.91 L124.90 831.31 L125.43 830.93 L125.40 831.01 L124.70 831.14 L125.57 829.78 L124.65 830.00 L125.06 827.83 L124.86 827.26 L125.42 826.81 L125.74 828.07 L125.57 826.11 L124.92 826.87 L125.96 826.96 L125.98 824.92 L125.47 824.90 L125.93 825.87 L125.49 823.43 L125.43 823.83 L125.45 822.62 L125.13 823.43 L125.68 822.58 L125.60 820.84 L125.84 821.84 L126.43 820.04 L126.43 821.32 L125.61 819.22 L126.25 818.60 L125.49 818.70 L126.45 818.61 L125.69 819.10 L126.51 817.03 L126.27 817.59 L125.52 815.97 L125.99 816.95 L126.62 815.02 L126.48 815.91 L126.57 814.13 L126.60 813.63 L126.00 814.10 L126.72 813.88 L125.79 812.73 L125.94 812.90 L125.87 811.44 L125.95 810.84 L126.09 811.01 L126.10 811.62 L125.99 810.54 L125.82 809.72 L125.84 809.03 L126.50 809.73 L126.43 807.96 L126.02 809.29 L126.43 808.56 L126.93 807.32 L126.56 806.62 L127.16 806.87 L127.00 805.58 L126.79 806.00 L126.46 804.81 L126.23 803.51 L126.98 803.09 L126.31 803.08 L127.15 802.21 L126.97 803.64 L126.48 801.77 L126.76 801.34 L126.77 800.55 L127.41 800.35 L126.93 801.59 L127.46 799.39 L126.74 799.09 L126.78 797.89 L126.94 798.58 L126.95 797.46 L126.67 796.54 L126.84 796.29 L126.40 795.72 L126.67 795.89 L127.03 796.11 L127.20 796.06 L127.47 795.52 L126.82 794.28 L126.62 795.25 L127.22 794.17 L127.47 792.09 L127.23 793.67 L127.46 792.83 L127.12 790.95 L127.51 791.37 L127.51 791.64 L127.60 790.66 L127.37 790.44 L126.59 788.90 L126.99 788.21 L127.58 787.69 L127.34 788.32 L127.41 788.03 L126.61 787.25 L127.51 787.53 L127.27 786.37 L126.72 786.29 L126.95 786.02 L126.98 783.98 L126.92 785.10 L127.85 784.67 L127.15 783.62 L127.52 783.13 L127.45 783.37 L126.82 782.62 L127.04 780.97 L127.11 781.95 L126.77 781.07 L127.09 779.40 L127.61 780.41 L127.14 779.97 L127.36 779.13 L126.95 778.56 L127.06 779.13 L127.96 778.87 L127.40 776.11 L128.02 777.59 L127.19 776.24 L128.01 775.21 L127.59 774.76 L127.53 774.14 L127.08 775.63 L127.56 774.87 L127.82 774.57 L128.08 772.55 L127.06 772.71 L127.64 771.10 L127.44 771.72 L127.52 770.52 L128.14 770.49 L128.06 769.29 L127.33 770.85 L128.07 770.60 L127.58 770.09 L127.73 768.37 L127.99 769.42 L127.83 767.44 L127.40 766.78 L128.37 765.92 L128.51 765.90 L127.74 765.37 L127.67 765.54 L128.62 764.76 L128.47 765.54 L128.62 764.48 L128.20 764.77 L127.63 763.79 L128.14 763.36 L128.40 762.96 L127.71 761.39 L127.83 762.48 L128.11 760.93 L128.60 760.06 L128.05 761.24 L128.11 760.02 L128.24 759.33 L127.98 757.94 L128.89 757.58 L128.08 757.83 L129.03 758.36 L128.02 756.81 L127.98 755.74 L127.99 755.64 L128.21 754.95 L128.98 755.29 L128.43 755.27 L128.58 754.01 L128.37 753.47 L128.32 752.26 L128.15 753.98 L128.77 752.41 L128.29 752.82 L128.35 750.95 L128.60 750.81 L129.10 751.68 L128.13 751.04 L128.97 748.57 L128.70 750.19 L128.15 748.99 L129.28 748.07 L129.21 748.66 L128.50 748.56 L128.40 746.04 L129.05 746.58 L129.12 747.13 L129.18 745.97 L128.95 745.06 L129.24 743.61 L129.42 743.62 L128.70 744.16 L128.65 742.46 L129.20 743.23 L128.47 741.52 L129.10 742.06 L128.70 741.28 L128.47 741.34 L129.04 740.17 L129.29 741.30 L129.12 740.66 L128.87 738.65 L129.45 739.94 L128.66 737.92 L129.47 737.93 L129.00 737.29 L129.83 737.43 L128.79 735.92 L129.28 735.74 L129.04 736.12 L129.72 735.94 L129.11 734.79 L129.27 735.45 L129.20 734.64 L129.86 732.75 L130.12 732.48 L129.23 732.51 L129.54 731.40 L130.21 732.01 L129.57 730.31 L130.29 730.02 L129.22 729.40 L129.66 728.75 L130.27 730.31 L130.44 729.46 L129.67 729.49 L130.42 727.25 L129.40 728.14 L129.87 727.49 L129.87 726.34 L129.53 725.40 L130.01 725.21 L129.79 726.38 L129.95 725.95 L130.74 724.04 L130.33 724.70 L130.44 722.39 L131.03 722.72 L130.42 721.83 L130.08 723.07 L131.07 721.45 L130.21 721.85 L130.29 719.65 L130.58 721.32 L131.41 720.45 L130.71 719.02 L131.18 720.05 L131.36 717.93 L130.89 717.61 L131.52 716.40 L131.43 718.14 L130.76 717.75 L131.36 715.60 L131.99 716.88 L131.20 715.06 L131.55 714.71 L131.23 715.46 L131.96 714.70 L132.06 714.30 L131.58 713.33 L131.68 712.19 L131.39 712.84 L132.26 710.99 L131.49 710.66 L132.13 709.69 L132.70 709.94 L132.77 710.83 L131.74 708.89 L132.30 708.03 L132.43 709.09 L132.58 707.53 L133.08 708.04 L133.48 707.93 L132.80 707.31 L133.20 707.32 L133.49 706.24 L133.47 706.24 L133.72 704.64 L134.68 704.00 L134.20 704.60 L135.19 703.75 L134.32 704.47 L134.87 705.64 L134.26 706.53 L135.16 705.74 L135.32 707.07 L134.63 705.60 L134.55 706.24 L135.06 708.74 L134.86 709.08 L134.99 709.38 L135.43 708.37 L134.67 710.47 L135.33 710.08 L135.08 709.62 L134.93 709.89 L135.45 710.61 L135.02 712.01 L135.21 710.93 L135.09 712.98 L135.15 712.55 L135.61 714.16 L135.12 712.85 L135.72 714.10 L135.23 715.14 L136.02 714.46 L135.59 715.50 L136.45 715.71 L136.05 716.18 L135.93 716.74 L136.69 718.41 L135.79 717.67 L135.86 719.00 L136.76 717.72 L136.72 719.18 L136.86 719.59 L136.05 720.17 L136.58 719.56 L137.07 721.52 L136.79 720.65 L136.71 721.78 L136.50 721.69 L137.34 723.05 L136.88 722.51 L137.51 724.64 L136.56 723.63 L137.64 725.88 L136.60 725.23 L137.06 726.75 L137.40 727.15 L136.91 727.41 L137.04 727.78 L137.85 727.32 L137.12 728.79 L137.47 727.78 L137.53 728.95 L137.45 728.45 L138.32 730.35 L138.00 729.16 L137.46 731.33 L137.64 731.98 L138.25 731.86 L138.04 732.38 L138.46 732.33 L138.63 732.80 L138.45 733.30 L138.76 732.74 L138.38 734.31 L139.12 735.42 L138.49 735.14 L138.49 735.63 L138.96 735.25 L139.06 735.62 L138.66 737.07 L138.80 737.83 L139.67 738.52 L138.83 738.44 L139.25 738.87 L138.99 740.40 L140.06 740.63 L139.87 740.79 L140.10 739.95 L140.11 741.12 L139.19 742.59 L140.14 742.74 L139.48 741.46 L139.28 743.57 L139.45 744.36 L139.32 744.63 L140.29 744.33 L139.53 744.08 L139.63 745.25 L139.50 744.58 L140.44 745.33 L140.42 747.03 L140.32 746.26 L140.05 746.58 L139.87 748.29 L140.14 749.31 L140.57 749.06 L140.73 748.38 L140.04 750.09 L139.92 750.95 L140.33 751.87 L140.59 750.81 L139.91 751.46 L139.79 752.63 L140.08 753.27 L140.99 753.28 L140.64 753.61 L139.88 753.40 L140.10 753.18 L140.47 755.03 L141.07 755.23 L140.30 754.77 L140.09 756.47 L140.53 755.36 L140.57 756.06 L140.88 756.79 L140.46 758.11 L140.82 758.65 L141.41 757.92 L140.50 758.63 L141.12 758.73 L141.33 761.04 L140.75 760.36 L141.24 759.88 L140.92 761.65 L141.07 762.30 L141.46 763.45 L141.70 762.25 L141.29 762.21 L140.97 763.52 L141.66 763.14 L141.42 763.48 L140.97 766.16 L141.56 764.83 L141.64 766.02 L141.12 767.20 L141.30 766.44 L142.05 766.27 L141.87 768.48 L142.07 767.07 L141.65 769.29 L141.67 769.73 L141.29 768.94 L141.24 769.41 L142.13 770.11 L142.29 771.42 L141.63 771.91 L141.87 771.98 L142.01 772.99 L142.19 772.19 L141.71 774.32 L141.51 774.56 L141.81 773.52 L142.70 775.14 L141.99 775.59 L142.13 776.35 L142.96 775.25 L142.84 776.63 L143.32 777.15 L143.30 777.11 L143.45 778.10 L143.43 777.91 L143.07 778.67 L143.58 778.25 L144.07 778.36 L143.14 778.96 L144.36 779.31 L143.56 780.32 L143.57 779.99 L144.42 782.02 L144.68 782.47 L144.58 781.41 L144.93 782.57 L145.09 784.12 L145.14 782.76 L145.31 785.24 L144.50 783.76 L144.37 784.22 L145.37 786.43 L145.47 786.37 L144.89 786.82 L144.74 785.99 L144.95 788.02 L145.28 787.42 L145.16 787.15 L145.78 788.23 L145.38 788.88 L145.68 790.76 L145.89 790.94 L145.72 789.42 L146.23 790.85 L146.22 791.08 L145.71 791.99 L145.63 793.22 L145.80 793.57 L145.92 792.05 L146.92 794.33 L146.41 792.96 L146.86 794.58 L146.57 794.29 L147.05 795.13 L147.26 795.38 L146.46 795.88 L146.87 797.33 L147.11 796.36 L147.37 796.74 L147.44 798.67 L147.00 798.96 L147.12 798.86 L146.83 800.49 L146.83 800.93 L147.22 799.73 L147.61 801.84 L148.17 801.03 L147.77 801.12 L148.23 802.28 L148.20 803.25 L147.92 802.72 L148.64 802.69 L148.63 804.35 L148.37 803.61 L148.64 805.50 L148.60 804.38 L148.44 806.64 L148.62 805.42 L149.37 807.09 L148.65 806.21 L148.96 806.87 L148.87 807.97 L149.00 807.95 L149.75 809.94 L150.14 808.28 L149.55 808.72 L150.15 811.28 L149.82 811.12 L150.17 810.27 L149.73 810.51 L149.60 811.64 L150.59 812.12 L150.32 813.28 L150.35 813.58 L150.60 812.86 L150.85 813.94 L150.55 815.60 L151.01 815.25 L150.47 815.34 L151.33 816.52 L151.19 817.09 L151.25 817.73 L151.06 817.68 L151.35 817.35 L151.17 817.28 L151.61 819.38 L151.13 819.46 L151.46 819.42 L151.48 820.35 L152.18 820.93 L151.93 820.20 L151.69 822.09 L152.48 821.85 L152.04 821.22 L152.40 821.96 L152.17 824.29 L152.31 822.72 L152.56 824.23 L152.55 824.62 L152.49 825.83 L153.08 825.28 L152.84 825.25 L153.02 826.14 L153.35 825.95 L152.31 826.96 L152.80 827.21 L152.89 827.04 L153.30 828.47 L152.85 828.75 L153.49 828.90 L153.31 831.07 L153.71 829.79 L153.07 830.65 L153.82 830.47 L153.72 832.56 L153.71 832.19 L154.26 832.06 L153.94 832.82 L154.23 834.39 L153.67 834.00 L153.54 834.64 L153.89 835.78 L153.86 836.27 L153.91 835.58 L153.90 836.15 L154.62 835.59 L154.12 836.71 L154.47 837.21 L154.73 837.96 L154.47 838.97 L155.14 840.06 L155.18 838.42 L155.19 840.91 L155.32 839.53 L154.42 841.16 L155.61 840.12 L154.84 842.12 L154.78 841.24 L155.62 842.01 L154.94 842.73 L155.78 844.52 L155.97 843.20 L155.89 844.71 L156.09 845.31 L156.08 846.05 L155.96 845.08 L156.07 846.33 L156.30 846.56 L155.61 847.29 L155.52 846.97 L155.48 848.04 L155.64 848.43 L156.12 848.94 L156.61 849.51 L156.64 848.68 L156.36 850.24 L156.75 851.17 L156.31 850.92 L155.95 852.78 L156.68 852.45 L156.70 851.44 L157.15 853.46 L157.26 853.07 L156.72 853.95 L156.24 855.33 L157.00 855.35 L157.34 854.89 L156.94 855.41 L157.35 856.25 L157.00 855.94 L157.20 856.90 L156.94 858.32 L157.13 858.78 L157.03 858.45 L157.93 858.91 L157.77 859.71 L157.25 859.39 L157.63 859.76 L157.93 861.02 L157.91 860.04 L157.75 862.53 L157.55 860.98 L157.51 861.33 L158.11 863.99 L158.41 863.81 L158.29 864.88 L158.40 864.63 L158.46 865.28 L158.09 865.70 L158.47 866.13 L158.14 866.81 L158.15 865.88 L159.30 867.76 L158.73 867.93 L159.33 868.79 L158.78 868.62 L159.07 868.46 L159.18 868.96 L159.87 870.19 L159.52 869.24 L159.08 869.66 L159.72 871.97 L159.65 872.69 L159.67 870.98 L160.43 872.82 L160.08 874.17 L159.83 873.21 L160.17 874.18 L160.14 873.41 L161.15 873.47 L161.70 874.17 L161.79 874.50 L160.97 875.01 L161.45 876.84 L161.59 877.29 L162.50 876.06 L162.80 878.06 L162.08 878.51 L163.04 878.68 L163.51 878.69 L163.76 878.61 L162.91 880.09 L163.97 878.77 L163.58 881.06 L164.65 880.21 L165.10 880.23 L164.43 881.37 L165.34 881.45 L165.76 881.99 L166.20 881.65 L166.31 882.54 L166.33 883.54 L167.06 883.33 L167.35 885.03 L167.06 884.49 L168.17 883.65 L168.41 885.39 L168.55 884.71 L169.24 886.46 L169.02 885.77 L170.13 885.56 L170.30 885.64 L170.96 886.39 L170.64 887.09 L171.03 885.36 L171.83 886.58 L172.60 887.73 L172.95 886.08 L173.40 888.13 L173.10 887.76 L174.16 888.64 L174.70 888.44 L174.14 887.74 L175.44 888.35 L175.82 887.61 L175.64 889.47 L176.61 888.80 L176.50 888.58 L177.56 888.22 L177.68 889.52 L178.49 888.10 L178.32 889.68 L179.45 889.38 L179.50 890.10 L180.01 889.38 L180.06 888.94 L180.99 889.04 L181.30 889.51 L181.70 889.69 L181.72 889.36 L182.45 890.95 L183.11 889.54 L183.16 890.78 L183.77 890.58 L183.97 890.58 L185.15 889.96 L185.22 891.31 L185.50 890.98 L186.06 891.38 L186.74 891.71 L187.30 891.64 L187.17 891.05 L187.71 891.11 L188.09 891.11 L188.99 891.76 L189.46 891.77 L189.46 892.33 L190.07 892.13 L190.77 891.81 L191.04 892.06 L191.64 892.50 L191.86 892.63 L192.22 892.59 L192.94 893.06 L193.08 892.71 L193.62 892.87 L194.20 893.34 L194.44 893.41 L195.02 893.50 L195.42 893.51 L195.86 893.64 L196.30 893.77 L196.74 893.89 L197.18 894.02 L197.62 894.15 L198.06 894.27 L198.50 894.40 L198.96 894.40 L199.43 894.40 L199.89 894.40 L200.36 894.40 L200.82 894.40 L201.29 894.40 L201.75 894.40 L202.21 894.40 L202.68 894.40 L203.14 894.40 L203.61 894.40 L204.07 894.40 L204.54 894.40 L205.00 894.40" fill="none" stroke="#7ee455" stroke-width="1.25" stroke-linejoin="round" stroke-opacity="1"/>
<path d="M110.00 894.40 L110.46 894.30 L110.92 894.20 L111.39 894.10 L111.85 894.00 L112.31 893.90 L112.78 893.80 L113.24 893.70 L113.70 893.60 L114.17 893.38 L114.34 892.79 L114.94 892.92 L115.09 892.60 L115.65 892.26 L115.81 891.51 L116.06 891.35 L116.43 891.31 L116.76 890.70 L117.01 891.02 L117.49 890.82 L118.46 889.42 L118.76 889.30 L119.00 890.15 L118.82 888.26 L119.63 887.72 L119.55 889.08 L119.46 887.76 L119.88 888.26 L119.74 887.40 L119.90 886.04 L120.75 886.83 L121.39 885.08 L121.10 884.98 L121.19 884.33 L121.52 885.58 L121.97 883.58 L122.72 883.55 L123.07 882.67 L123.18 882.12 L122.57 883.17 L122.87 882.29 L122.98 881.34 L124.14 881.18 L124.27 882.28 L123.71 879.70 L123.65 881.20 L124.14 880.37 L124.01 880.56 L124.61 879.73 L124.42 877.71 L125.26 878.95 L125.36 876.98 L125.30 878.30 L125.42 877.07 L126.39 875.71 L125.91 876.57 L125.99 874.63 L126.69 875.48 L126.55 874.26 L127.31 874.63 L127.33 874.67 L126.87 872.77 L127.45 873.60 L127.19 873.13 L127.69 872.91 L128.49 872.54 L127.64 871.26 L128.36 871.82 L128.27 871.29 L129.11 869.21 L128.48 869.20 L129.16 868.77 L129.23 867.45 L129.39 868.07 L129.80 866.85 L130.14 868.08 L130.12 866.45 L130.34 866.16 L130.65 864.95 L130.36 866.65 L130.57 865.15 L130.12 864.77 L130.53 865.36 L130.55 863.04 L131.57 862.76 L130.87 861.79 L131.15 862.96 L131.80 860.88 L131.88 861.78 L131.54 861.65 L132.44 861.61 L131.89 859.19 L132.51 859.82 L132.22 858.87 L132.40 858.73 L133.44 858.74 L133.26 857.23 L132.93 858.23 L134.03 857.98 L133.51 856.49 L133.75 857.14 L134.36 855.63 L133.75 856.10 L133.85 854.38 L134.74 854.41 L134.77 854.85 L134.80 854.44 L134.51 852.17 L135.12 853.90 L134.62 851.76 L134.66 852.24 L134.41 851.55 L135.05 850.88 L134.72 849.45 L135.59 851.29 L135.53 850.77 L135.94 850.02 L135.03 849.76 L135.42 848.74 L135.54 848.39 L136.43 847.62 L135.73 847.37 L136.06 846.69 L136.00 847.28 L136.54 845.29 L136.58 844.41 L136.60 845.97 L136.65 843.88 L136.38 844.08 L136.40 842.65 L136.78 842.61 L136.63 842.14 L137.04 841.21 L137.16 842.57 L137.25 841.47 L137.37 840.14 L137.22 840.31 L137.17 840.23 L136.94 839.06 L137.31 838.39 L137.44 838.33 L137.21 836.99 L137.11 838.58 L137.46 837.40 L138.10 836.30 L137.89 835.88 L137.09 835.10 L137.58 836.36 L137.56 833.97 L138.03 834.43 L137.46 833.18 L138.12 834.78 L137.68 832.40 L138.13 832.42 L138.39 832.61 L138.03 832.65 L138.35 832.00 L138.07 831.60 L138.40 831.21 L137.74 831.08 L137.64 830.52 L138.38 829.82 L138.88 828.73 L138.27 828.46 L138.86 828.52 L138.32 827.65 L138.46 826.82 L138.30 827.03 L138.66 825.78 L138.43 825.31 L139.11 825.83 L138.66 824.69 L138.54 823.49 L138.91 822.94 L138.37 823.54 L138.70 823.91 L139.36 823.27 L138.65 823.10 L139.53 821.37 L138.53 819.93 L139.11 820.81 L139.48 821.21 L139.78 819.85 L139.24 819.35 L139.12 819.30 L139.41 818.07 L139.87 817.60 L139.40 817.93 L139.25 816.10 L139.51 816.37 L139.93 816.34 L139.50 816.83 L139.70 815.12 L139.40 816.01 L140.00 814.44 L139.44 813.13 L140.09 814.62 L139.27 813.05 L140.00 813.52 L140.40 812.89 L139.75 812.61 L139.63 810.40 L139.92 810.80 L139.57 809.58 L140.12 810.19 L140.62 809.08 L139.52 809.31 L140.45 808.32 L140.37 807.62 L139.94 806.44 L140.32 808.00 L139.88 807.14 L140.35 806.28 L140.50 805.28 L140.96 805.46 L140.29 805.12 L140.02 803.58 L140.00 804.66 L140.11 802.63 L140.93 803.20 L140.95 802.97 L140.03 801.19 L140.44 802.45 L140.51 801.86 L140.45 800.10 L141.25 799.49 L140.62 800.20 L140.70 799.42 L141.34 798.00 L141.46 798.81 L141.09 798.00 L140.43 797.08 L141.44 798.25 L141.53 796.31 L140.85 797.04 L141.67 796.07 L141.70 795.35 L141.06 794.28 L140.89 794.95 L141.71 793.51 L141.65 793.46 L140.94 792.42 L141.00 792.23 L141.16 793.24 L140.98 791.79 L141.34 791.26 L140.99 790.48 L141.94 789.35 L141.28 789.43 L141.36 788.58 L141.10 788.23 L141.50 788.79 L141.98 787.10 L141.49 786.49 L141.35 787.80 L142.23 786.40 L141.45 786.81 L142.16 785.26 L142.47 784.86 L142.49 783.99 L141.66 784.24 L141.57 783.66 L141.76 783.80 L142.18 783.81 L141.80 782.07 L141.79 782.18 L141.72 782.36 L142.25 781.03 L142.56 779.99 L142.45 779.80 L142.07 779.78 L141.83 778.89 L142.78 777.92 L142.58 777.80 L142.49 776.83 L142.45 776.98 L141.96 776.36 L142.18 775.93 L142.80 775.03 L142.45 774.94 L142.93 775.98 L143.05 775.47 L142.36 773.21 L142.86 772.52 L142.49 773.59 L142.87 772.53 L142.39 772.77 L142.54 772.67 L142.35 771.70 L143.24 770.01 L143.02 771.05 L142.23 768.93 L142.43 768.77 L142.67 768.66 L142.60 767.57 L142.46 768.56 L142.94 768.59 L142.58 767.84 L143.11 766.71 L142.31 766.06 L143.25 766.77 L142.39 765.00 L143.08 765.91 L142.66 763.53 L143.34 763.23 L143.50 763.01 L142.52 763.86 L142.91 763.27 L143.45 762.95 L142.58 761.38 L142.99 762.52 L143.33 762.03 L143.54 761.12 L143.13 760.40 L143.47 758.57 L143.29 759.01 L142.88 759.75 L142.82 758.90 L143.78 758.30 L143.52 756.79 L143.67 758.03 L143.25 756.56 L143.43 754.94 L143.28 755.33 L143.25 754.63 L143.94 755.13 L143.47 753.55 L143.76 753.76 L143.69 754.31 L144.37 752.33 L144.03 751.50 L144.38 751.50 L144.36 751.56 L144.29 750.20 L144.09 750.78 L144.58 750.72 L143.98 748.70 L143.92 748.84 L144.06 747.66 L144.61 747.54 L143.95 747.68 L144.42 746.93 L144.10 746.57 L143.94 745.40 L144.85 747.14 L144.84 744.49 L144.68 746.17 L144.61 743.61 L144.28 743.92 L144.08 743.71 L144.87 744.15 L145.25 742.98 L144.45 742.57 L144.34 741.12 L145.13 740.13 L144.58 741.60 L145.02 739.57 L145.39 740.68 L145.24 738.58 L145.22 739.70 L144.57 738.02 L144.76 738.75 L145.06 737.18 L145.49 736.73 L144.63 735.97 L145.43 736.30 L145.61 736.46 L145.99 736.21 L145.54 734.77 L145.39 733.51 L145.22 734.08 L145.41 733.88 L146.47 732.84 L145.44 731.54 L145.71 731.93 L145.58 732.15 L146.69 731.98 L146.27 731.40 L146.64 729.74 L146.44 729.84 L146.56 728.97 L147.11 729.30 L146.41 729.42 L146.83 727.51 L146.76 727.70 L146.49 726.36 L146.99 726.21 L147.57 727.31 L147.70 726.60 L147.31 726.38 L146.69 725.56 L147.39 724.78 L147.39 723.42 L147.33 724.54 L147.16 723.35 L147.90 722.17 L147.11 720.95 L147.47 722.06 L147.77 720.18 L147.72 720.42 L147.70 720.07 L147.59 719.97 L147.37 718.43 L147.86 719.84 L148.28 717.52 L147.41 717.40 L147.64 717.61 L148.05 717.06 L148.12 715.97 L148.09 715.25 L147.62 715.93 L147.65 715.04 L148.65 714.66 L148.51 714.48 L147.84 714.52 L148.66 714.63 L148.88 712.04 L148.18 712.28 L148.74 713.19 L148.32 712.30 L148.31 711.85 L148.78 710.10 L149.14 709.12 L148.87 709.14 L149.12 709.87 L149.44 709.86 L149.46 709.36 L149.92 709.02 L149.86 706.77 L149.97 706.73 L150.14 707.10 L149.69 705.30 L150.47 706.33 L149.47 705.84 L149.63 705.10 L150.56 704.52 L150.82 703.92 L150.12 705.73 L150.46 705.02 L150.74 707.02 L150.17 705.73 L151.22 706.18 L151.03 706.81 L151.30 707.52 L150.76 708.19 L151.34 709.82 L151.77 709.83 L150.93 710.91 L151.20 709.90 L152.18 710.74 L151.29 711.91 L152.33 710.88 L151.93 712.52 L151.76 712.48 L152.15 713.82 L152.52 714.34 L152.30 712.88 L153.01 713.67 L152.02 715.02 L152.43 714.47 L152.72 715.64 L152.49 715.91 L152.79 715.44 L152.15 716.68 L153.34 717.44 L152.37 716.90 L152.55 718.86 L152.85 718.36 L152.97 718.79 L153.47 719.88 L152.39 721.45 L153.31 720.87 L153.35 722.07 L153.21 721.95 L152.82 721.76 L153.56 723.25 L153.36 724.05 L153.49 722.98 L153.22 724.48 L153.06 724.69 L153.16 724.94 L153.11 724.22 L153.92 725.30 L153.21 726.14 L153.09 726.02 L153.00 726.73 L153.91 726.36 L153.43 727.89 L153.32 728.62 L153.10 728.12 L153.45 728.90 L153.81 730.38 L153.62 731.34 L153.97 731.76 L153.54 730.20 L154.58 731.86 L154.38 731.78 L154.55 732.41 L154.16 732.00 L153.97 734.45 L153.72 733.37 L154.08 733.61 L154.08 735.36 L154.12 735.09 L154.98 736.03 L154.24 736.60 L155.22 737.26 L154.22 737.40 L155.24 738.36 L154.41 737.70 L154.95 737.79 L155.14 739.89 L154.69 740.47 L155.39 739.49 L155.04 740.73 L155.02 741.26 L155.17 740.22 L155.49 740.65 L155.39 741.80 L155.20 742.88 L155.00 743.01 L155.75 744.56 L155.23 745.16 L156.12 744.71 L155.45 744.48 L155.60 744.51 L155.63 746.42 L156.12 746.98 L156.41 746.77 L156.58 747.26 L156.28 747.82 L156.29 748.60 L156.98 748.97 L156.53 749.58 L157.42 750.02 L156.67 749.70 L157.56 750.31 L156.53 749.82 L157.40 751.09 L157.13 752.26 L157.03 753.22 L156.93 753.12 L157.04 751.82 L157.54 752.34 L157.22 753.98 L157.50 755.36 L157.33 753.91 L158.28 755.77 L157.27 754.84 L157.59 756.77 L157.95 757.71 L157.83 757.33 L158.03 758.17 L158.62 757.48 L158.47 757.41 L158.43 757.76 L158.75 759.01 L158.45 758.64 L158.94 759.93 L158.64 761.67 L158.25 760.39 L158.53 760.93 L158.32 761.31 L158.90 763.02 L159.38 762.37 L158.93 762.62 L159.35 762.93 L158.69 765.09 L159.42 765.25 L158.89 764.58 L159.62 765.52 L159.43 765.19 L159.21 766.68 L159.79 767.09 L159.85 766.65 L159.78 767.46 L159.12 769.12 L160.16 769.57 L159.05 768.66 L160.25 768.67 L160.24 768.87 L160.09 769.66 L159.47 769.98 L159.43 771.84 L160.48 771.46 L160.50 772.82 L159.54 773.90 L160.51 772.56 L159.67 774.10 L159.96 774.11 L159.87 774.38 L160.99 773.85 L160.88 775.01 L160.44 775.00 L160.39 775.49 L160.72 776.05 L160.81 776.43 L160.09 777.73 L160.57 777.83 L160.42 779.64 L161.19 778.41 L160.93 780.47 L160.29 779.46 L160.19 779.89 L160.74 779.81 L160.82 781.14 L160.19 781.49 L160.99 782.72 L160.89 782.83 L161.44 783.64 L161.14 784.53 L160.69 783.85 L161.50 784.35 L160.82 784.73 L160.56 785.24 L160.42 787.11 L161.55 786.62 L161.19 786.23 L160.78 786.98 L160.65 787.00 L161.48 789.01 L160.62 789.62 L160.98 789.56 L161.27 789.90 L161.81 789.56 L161.56 789.26 L161.30 791.76 L161.91 791.59 L161.50 791.18 L161.22 792.86 L161.26 793.24 L161.55 793.24 L161.23 794.06 L161.52 794.40 L161.63 793.88 L162.01 794.44 L161.81 795.39 L161.54 795.96 L161.17 795.69 L161.66 797.84 L161.68 797.33 L161.36 798.48 L162.08 797.40 L161.89 798.54 L162.22 799.88 L161.23 800.43 L162.20 799.72 L161.38 801.21 L161.58 800.07 L161.74 800.39 L161.97 802.52 L161.49 802.13 L162.62 802.44 L162.00 803.61 L162.45 803.54 L161.71 804.66 L162.01 804.92 L161.89 804.99 L162.05 805.08 L161.70 805.55 L162.40 805.57 L161.97 805.67 L162.12 807.71 L162.11 807.21 L161.97 808.88 L162.93 808.86 L162.44 808.26 L162.71 810.13 L162.06 809.57 L162.49 810.19 L162.44 811.29 L162.90 811.00 L162.58 812.42 L162.89 811.85 L162.46 813.59 L163.12 814.15 L163.10 813.16 L162.42 813.51 L162.83 814.98 L163.01 814.88 L163.36 816.23 L163.20 814.58 L163.08 816.07 L163.06 817.43 L163.66 817.00 L163.22 817.37 L163.66 817.99 L163.59 818.82 L162.79 818.62 L163.44 819.74 L163.74 820.40 L163.12 819.29 L163.87 819.64 L163.03 820.15 L163.64 822.16 L163.82 820.93 L163.62 822.96 L163.92 821.83 L163.84 823.15 L164.16 824.99 L163.40 825.14 L163.89 824.30 L164.50 823.96 L163.67 825.05 L163.71 825.59 L164.12 827.35 L164.00 826.97 L163.90 826.31 L164.55 828.72 L163.94 829.14 L163.74 828.02 L164.17 829.27 L164.35 829.55 L164.25 830.28 L164.09 831.25 L164.57 831.99 L164.32 830.35 L164.48 831.96 L164.42 832.48 L165.03 832.23 L164.98 832.72 L164.88 834.40 L165.33 834.01 L165.31 834.44 L164.82 833.96 L164.41 835.80 L164.48 836.79 L164.65 836.60 L165.15 837.83 L165.12 837.99 L165.38 838.13 L164.87 837.67 L164.84 839.42 L164.95 840.06 L164.87 838.55 L165.94 840.64 L165.63 840.20 L165.97 840.28 L165.12 841.75 L165.81 840.69 L166.02 841.10 L165.34 842.16 L165.49 843.30 L165.34 843.70 L165.59 844.99 L165.44 845.27 L166.48 845.62 L165.40 845.09 L166.18 845.51 L166.12 845.58 L166.08 845.72 L166.09 847.69 L165.76 848.02 L165.82 848.83 L166.93 849.51 L166.42 849.99 L166.25 848.89 L166.49 850.44 L166.05 851.32 L167.03 850.70 L166.70 851.42 L166.27 850.64 L167.23 851.53 L166.48 853.36 L166.30 854.00 L167.48 853.67 L167.50 853.50 L166.48 854.70 L167.01 854.38 L167.42 854.62 L167.52 854.90 L166.72 855.64 L166.80 856.71 L167.68 857.14 L167.35 857.70 L167.46 856.80 L167.67 857.40 L167.64 857.93 L167.45 858.91 L167.25 860.11 L168.24 859.37 L168.17 860.21 L167.79 861.96 L167.38 860.67 L167.46 862.87 L168.02 862.40 L167.99 861.94 L168.12 862.50 L167.97 863.77 L168.07 863.48 L167.79 863.94 L168.74 864.48 L168.82 865.56 L168.93 864.84 L168.88 866.41 L168.89 867.05 L169.10 866.67 L168.65 866.93 L168.93 867.07 L168.94 868.68 L168.83 870.02 L169.14 869.71 L169.93 870.19 L169.19 870.91 L169.97 870.23 L169.43 872.44 L170.35 872.00 L170.06 872.92 L170.33 873.35 L169.92 874.05 L170.54 874.54 L170.28 873.70 L171.19 873.75 L170.62 875.23 L170.74 874.87 L170.97 874.96 L172.01 875.71 L171.92 877.75 L171.70 876.95 L172.56 877.96 L172.60 878.19 L172.95 877.16 L173.51 879.00 L173.79 877.49 L173.49 878.40 L174.47 880.17 L174.20 879.94 L175.52 880.43 L175.66 880.90 L176.10 881.02 L176.02 880.74 L176.81 881.59 L176.59 882.00 L177.24 882.51 L177.15 882.68 L178.37 882.94 L178.84 881.42 L178.49 881.58 L178.95 882.33 L180.16 882.62 L180.34 883.29 L180.84 882.79 L181.13 883.96 L181.72 884.52 L181.24 883.44 L182.55 884.24 L182.68 883.70 L183.33 885.09 L183.37 883.30 L183.33 883.54 L184.12 885.63 L184.59 885.31 L184.71 884.85 L185.89 885.07 L185.64 885.89 L186.04 884.80 L186.66 886.45 L187.52 886.54 L187.79 885.42 L188.38 885.41 L188.13 885.94 L188.66 887.97 L189.71 886.39 L190.14 887.50 L190.08 887.17 L190.51 888.69 L190.57 888.95 L190.97 888.74 L191.22 888.19 L192.79 887.51 L193.07 888.36 L192.97 888.07 L193.64 887.92 L194.04 889.77 L194.91 888.90 L195.07 890.13 L195.46 888.68 L196.21 889.57 L196.37 889.60 L196.55 890.26 L197.25 890.24 L197.54 891.01 L198.35 890.29 L198.67 890.00 L198.90 891.08 L199.47 890.89 L199.89 891.63 L199.89 891.59 L200.40 891.22 L201.28 892.09 L201.55 891.35 L201.71 891.96 L202.50 891.94 L202.72 892.32 L203.17 892.56 L203.67 892.53 L204.15 893.03 L204.55 893.10 L205.02 893.07 L205.34 893.43 L205.70 893.56 L206.10 893.77 L206.50 893.98 L206.90 894.19 L207.30 894.40 L207.77 894.40 L208.24 894.40 L208.71 894.40 L209.18 894.40 L209.65 894.40 L210.12 894.40 L210.59 894.40 L211.06 894.40 L211.53 894.40 L212.00 894.40" fill="none" stroke="#d41818" stroke-width="1.3" stroke-linejoin="round" stroke-opacity="1"/>
<path d="M110.00 894.40 L110.46 894.30 L110.92 894.20 L111.39 894.10 L111.85 894.00 L112.31 893.90 L112.78 893.80 L113.24 893.70 L113.70 893.60 L113.98 893.20 L114.54 893.08 L114.74 892.98 L115.17 892.14 L115.36 892.57 L115.71 892.18 L115.98 891.37 L116.55 891.04 L117.36 891.78 L117.21 890.24 L117.46 891.29 L118.04 889.85 L118.10 888.97 L118.48 889.18 L118.58 890.20 L119.68 887.85 L119.87 888.12 L120.04 888.25 L119.42 886.96 L120.13 887.81 L120.67 886.87 L120.37 887.03 L121.53 885.55 L120.91 885.62 L121.13 885.52 L121.08 885.52 L122.08 885.29 L122.86 883.58 L122.14 882.94 L122.78 881.98 L123.17 883.47 L123.56 882.10 L123.07 880.84 L124.20 881.91 L124.03 881.46 L123.82 881.44 L124.52 881.48 L124.24 879.39 L124.38 880.27 L125.33 878.11 L125.04 878.66 L125.79 878.63 L125.21 876.71 L125.52 876.10 L126.35 876.90 L126.17 876.95 L126.37 875.79 L126.96 875.00 L127.16 876.03 L127.14 873.82 L127.07 875.07 L127.79 875.04 L127.84 874.16 L128.09 873.46 L128.01 871.57 L128.05 872.73 L127.45 871.09 L128.67 871.57 L127.98 870.20 L127.98 869.63 L129.38 870.45 L128.68 870.37 L128.45 869.64 L128.97 869.59 L129.56 866.81 L129.23 866.75 L129.63 866.09 L130.30 867.03 L130.49 865.15 L129.81 864.91 L130.14 865.92 L130.63 864.65 L131.11 863.89 L131.34 863.43 L131.08 864.66 L131.58 862.05 L131.36 861.60 L130.91 862.27 L132.00 862.40 L131.71 861.84 L132.14 861.19 L132.69 859.95 L132.77 861.67 L132.27 861.13 L132.07 860.76 L132.33 858.90 L133.26 858.39 L133.11 858.66 L132.90 857.20 L133.20 856.93 L133.94 855.90 L133.63 856.37 L134.12 855.03 L133.61 854.59 L134.33 855.17 L134.51 855.88 L134.86 855.38 L134.69 854.30 L134.08 852.02 L135.11 851.44 L134.89 852.98 L134.62 851.26 L135.12 850.54 L134.77 852.42 L134.70 849.32 L135.82 849.75 L135.31 850.57 L134.93 848.17 L135.98 847.87 L136.39 848.32 L136.22 849.11 L136.37 847.45 L135.48 846.04 L136.15 846.82 L135.90 845.39 L136.93 844.42 L137.09 845.91 L136.49 846.23 L136.53 845.09 L137.28 844.87 L136.16 842.53 L137.01 842.30 L136.25 842.31 L137.38 843.13 L136.39 841.65 L137.12 842.40 L136.87 839.66 L137.70 840.76 L137.40 839.92 L136.89 838.69 L137.13 840.20 L137.47 837.50 L136.96 837.12 L137.55 837.59 L137.76 837.65 L136.91 836.65 L136.94 837.00 L137.47 835.84 L137.95 835.95 L137.91 834.29 L137.70 835.11 L138.36 833.12 L137.22 833.95 L138.56 832.49 L137.77 832.02 L138.42 833.13 L138.35 832.25 L137.49 830.14 L138.53 832.31 L137.52 829.24 L138.79 829.35 L138.48 828.85 L138.48 830.39 L137.99 829.91 L137.70 827.32 L137.86 828.56 L138.76 828.71 L138.94 826.06 L138.57 825.55 L139.00 824.94 L139.22 826.68 L139.18 823.75 L139.18 824.85 L138.94 824.25 L139.24 824.06 L138.24 822.16 L138.62 823.03 L138.27 822.16 L138.33 822.69 L139.47 822.47 L138.54 820.98 L138.70 821.07 L138.60 820.01 L139.25 821.09 L138.65 818.89 L139.75 819.50 L138.74 819.38 L139.05 817.59 L138.87 818.24 L140.07 817.36 L138.75 817.36 L138.94 814.97 L139.65 816.25 L139.49 815.32 L139.74 814.56 L140.21 814.78 L140.08 814.57 L140.17 814.63 L139.08 813.63 L140.26 813.08 L140.34 811.93 L140.46 810.78 L140.17 811.06 L139.64 810.08 L139.71 809.90 L139.91 808.74 L140.24 810.78 L140.43 810.19 L140.79 809.47 L139.82 808.79 L140.05 806.93 L139.84 805.84 L140.84 807.82 L140.66 805.81 L140.87 806.61 L140.40 806.21 L140.85 803.83 L140.61 803.97 L140.52 803.67 L140.03 804.90 L140.75 803.23 L141.19 802.80 L141.20 801.99 L141.31 802.33 L140.29 800.20 L141.30 800.30 L140.43 799.09 L141.49 800.60 L140.75 798.63 L141.14 799.59 L141.26 799.30 L140.60 797.44 L141.25 796.36 L140.68 796.40 L141.25 798.05 L141.30 796.54 L141.39 796.10 L140.55 794.81 L140.51 793.68 L140.73 794.04 L141.26 792.88 L141.56 794.81 L141.71 792.40 L140.81 791.67 L141.28 791.56 L141.37 792.17 L140.91 791.82 L141.29 791.92 L140.89 791.18 L141.20 790.71 L142.05 790.32 L141.35 789.34 L141.26 787.02 L141.25 789.06 L141.89 787.91 L141.35 787.45 L141.27 785.54 L141.70 787.43 L141.99 786.04 L141.31 784.38 L142.45 783.33 L142.63 783.19 L142.33 783.39 L142.45 782.30 L141.89 782.15 L141.56 782.45 L142.55 781.22 L142.00 780.86 L141.81 781.74 L141.84 779.68 L142.07 779.75 L142.25 780.01 L141.69 780.19 L142.82 779.15 L141.73 777.49 L141.88 777.60 L142.74 777.20 L141.94 775.71 L142.05 776.33 L142.45 775.17 L141.96 774.39 L142.56 774.61 L142.73 775.76 L142.31 772.88 L142.84 774.30 L143.45 774.20 L142.30 773.70 L142.93 773.48 L142.49 771.05 L142.60 772.34 L142.72 769.69 L143.05 771.59 L142.55 770.59 L142.94 769.35 L143.48 768.19 L142.77 768.17 L143.32 769.46 L142.72 766.74 L143.47 767.61 L143.46 765.39 L143.60 766.93 L143.60 765.06 L143.90 765.64 L144.21 763.90 L144.21 765.69 L143.78 764.99 L143.61 764.67 L144.28 762.32 L143.65 763.76 L143.67 761.39 L143.91 761.56 L144.85 760.41 L145.21 761.06 L144.94 760.10 L145.40 758.55 L144.83 758.72 L145.58 759.05 L145.74 758.54 L144.74 758.45 L144.81 758.59 L145.26 758.60 L146.06 755.99 L145.37 755.80 L145.84 755.41 L145.52 754.07 L146.26 754.01 L146.05 753.11 L145.94 753.39 L146.40 753.79 L145.84 752.15 L146.94 751.66 L145.89 751.29 L146.61 751.89 L145.98 752.46 L146.23 750.19 L146.73 750.72 L147.44 749.78 L147.50 750.04 L146.78 750.42 L147.07 749.93 L147.88 746.99 L146.72 746.69 L147.24 746.78 L148.20 748.25 L147.86 746.28 L148.38 747.05 L148.11 746.08 L147.87 744.14 L148.49 745.23 L149.07 745.20 L148.22 745.22 L149.34 742.31 L148.48 743.26 L148.72 743.17 L149.01 741.46 L149.61 741.83 L149.86 740.13 L149.64 741.23 L150.26 740.92 L149.97 738.63 L150.45 740.06 L149.87 739.53 L150.88 739.96 L150.54 737.49 L150.39 739.08 L151.61 737.11 L150.75 738.04 L151.08 737.14 L151.81 736.50 L151.21 734.56 L151.43 734.36 L151.41 733.42 L151.97 734.02 L152.36 732.66 L152.51 734.64 L152.85 732.56 L152.27 732.34 L152.20 732.03 L152.57 732.13 L153.85 730.84 L153.83 731.51 L153.71 730.72 L154.33 730.45 L154.21 728.59 L153.66 728.44 L154.19 730.37 L154.63 730.92 L153.73 730.67 L154.25 729.53 L153.93 731.99 L153.61 730.63 L154.62 731.39 L154.02 731.39 L154.75 732.59 L153.83 735.09 L155.16 733.11 L154.11 735.98 L154.68 734.68 L154.58 735.11 L154.41 736.02 L154.22 735.31 L154.28 736.08 L155.18 737.85 L155.41 737.30 L154.88 739.07 L154.76 738.87 L155.38 740.56 L154.92 738.56 L155.34 740.83 L155.22 741.36 L156.12 742.05 L155.92 740.54 L156.19 741.28 L156.41 743.46 L155.53 742.32 L156.29 743.99 L155.87 742.99 L155.83 744.68 L156.10 745.27 L156.44 744.67 L156.94 745.88 L157.03 744.92 L156.50 745.90 L157.14 747.52 L157.52 747.90 L156.78 747.20 L156.79 748.93 L156.82 747.96 L157.75 750.12 L158.01 750.42 L157.19 751.08 L157.84 750.19 L157.77 749.91 L157.07 750.45 L157.25 752.09 L158.30 753.71 L157.39 752.84 L157.86 752.33 L157.69 753.91 L157.96 754.91 L157.40 755.52 L157.83 754.00 L157.68 755.60 L157.68 756.57 L158.07 756.04 L158.52 757.59 L158.10 757.09 L158.82 759.10 L157.70 758.68 L158.48 758.68 L157.67 758.63 L158.93 761.05 L158.35 759.11 L158.15 760.93 L158.82 759.84 L158.42 762.26 L158.39 760.79 L159.23 761.26 L158.32 761.59 L158.14 764.05 L158.09 762.65 L158.77 763.26 L158.30 765.58 L159.17 764.19 L158.61 765.34 L158.51 764.95 L158.37 767.77 L159.28 766.23 L159.54 768.45 L159.65 767.72 L158.76 768.54 L159.39 768.60 L158.61 769.81 L159.80 768.74 L159.64 768.95 L158.88 770.05 L159.23 770.26 L158.82 772.77 L159.09 772.84 L159.72 771.38 L158.98 772.31 L159.90 772.97 L159.60 774.67 L159.90 772.73 L160.12 774.85 L159.36 776.27 L160.07 776.43 L159.46 775.25 L159.47 776.01 L159.16 776.48 L160.30 776.51 L159.94 777.48 L160.14 779.27 L160.39 777.92 L160.52 779.94 L160.21 780.18 L159.53 780.88 L159.74 780.89 L159.42 781.86 L159.73 781.47 L159.77 782.72 L160.49 783.24 L159.53 783.79 L160.40 784.41 L160.30 784.13 L160.63 782.83 L160.07 784.68 L160.56 784.55 L160.70 786.24 L159.99 785.11 L159.68 785.66 L159.60 786.33 L159.91 788.10 L159.71 786.53 L159.92 788.86 L160.23 788.53 L161.02 789.94 L160.60 789.01 L160.40 791.11 L160.79 791.57 L161.01 790.38 L159.96 791.57 L161.00 792.06 L160.54 792.32 L161.13 792.49 L160.21 793.65 L160.45 793.25 L160.94 795.38 L161.27 793.50 L160.85 793.70 L161.05 795.27 L160.20 795.71 L161.24 796.43 L160.62 797.63 L161.19 796.50 L160.48 798.57 L161.59 799.25 L160.76 798.45 L161.55 799.68 L160.70 798.71 L161.33 799.52 L161.10 799.57 L161.31 800.90 L161.75 800.35 L161.23 803.20 L160.74 803.07 L161.29 803.84 L161.77 803.87 L161.89 803.20 L160.66 803.22 L161.93 804.50 L162.04 806.06 L162.05 805.42 L160.98 806.00 L161.94 806.65 L161.69 806.52 L161.27 806.51 L161.64 807.41 L161.09 807.99 L161.47 807.15 L162.08 809.59 L161.43 808.69 L161.35 809.92 L162.41 810.61 L162.00 809.94 L162.27 811.84 L162.25 812.27 L162.47 811.49 L161.40 813.76 L161.98 814.26 L161.50 812.31 L162.39 814.75 L162.12 813.37 L162.91 815.20 L162.62 814.81 L161.86 815.00 L162.20 815.21 L162.08 816.94 L162.00 816.11 L162.00 816.35 L162.48 817.44 L162.48 817.52 L163.21 818.69 L163.20 819.27 L162.19 819.68 L162.16 820.46 L162.09 819.73 L163.38 821.67 L162.56 821.28 L162.59 821.79 L162.69 822.98 L163.40 821.92 L162.24 823.55 L163.30 824.77 L163.21 823.84 L162.93 825.87 L162.83 824.95 L163.39 825.74 L163.83 826.70 L163.06 825.50 L163.70 827.92 L163.59 827.64 L164.01 827.39 L163.29 828.42 L162.94 827.85 L163.94 830.30 L163.32 828.31 L163.60 830.02 L164.21 830.15 L163.74 830.56 L163.94 832.63 L163.55 831.81 L163.99 832.01 L163.54 833.58 L163.77 832.86 L164.55 833.29 L163.70 834.23 L164.51 834.10 L164.37 834.07 L163.72 834.13 L164.62 834.68 L163.86 835.38 L163.95 835.58 L164.63 837.92 L165.00 838.86 L165.01 838.31 L165.06 837.46 L164.08 838.88 L165.05 840.20 L164.03 839.64 L165.00 841.45 L165.35 841.13 L164.11 840.01 L164.11 840.70 L165.00 842.79 L164.39 841.57 L165.06 842.21 L165.61 844.03 L165.67 843.61 L164.90 844.27 L164.73 844.21 L165.85 846.68 L164.76 846.37 L164.78 845.35 L165.65 846.28 L165.41 845.91 L164.77 848.10 L165.88 847.87 L165.46 848.70 L165.73 850.01 L165.49 848.93 L166.19 851.08 L165.83 851.45 L165.34 849.73 L166.12 850.86 L166.32 850.25 L165.98 852.88 L166.43 851.15 L166.30 852.74 L166.43 853.62 L166.81 853.62 L166.82 855.60 L166.02 855.10 L166.00 854.88 L166.79 856.80 L166.88 856.93 L166.75 857.95 L166.90 856.51 L166.75 856.80 L167.15 856.96 L166.38 858.34 L166.17 860.00 L167.16 860.47 L167.22 858.73 L167.48 860.37 L166.86 860.85 L166.44 862.27 L166.51 862.29 L166.58 861.33 L167.09 863.45 L166.89 863.49 L167.49 863.95 L167.33 862.63 L166.99 864.83 L167.13 865.09 L168.08 864.74 L168.24 866.79 L167.70 865.79 L168.09 867.30 L168.37 866.76 L168.63 867.04 L167.59 867.68 L167.76 868.90 L167.77 869.14 L168.58 870.45 L168.14 870.19 L168.62 870.34 L169.36 869.70 L169.02 869.53 L169.68 870.12 L168.66 872.82 L169.40 872.06 L169.90 873.21 L170.32 872.60 L169.34 872.60 L169.44 874.80 L170.11 873.48 L169.77 874.34 L170.34 876.44 L170.15 876.48 L170.25 877.28 L170.93 877.70 L171.28 878.32 L171.31 877.66 L171.55 878.58 L172.58 876.76 L172.62 879.03 L172.36 879.15 L173.55 878.66 L174.06 880.35 L174.09 878.40 L174.07 879.79 L174.06 879.00 L174.92 880.14 L175.11 879.87 L176.03 880.96 L175.56 881.36 L176.21 882.48 L177.49 882.89 L177.34 880.81 L177.48 883.33 L177.79 882.36 L178.05 881.11 L178.57 881.58 L179.38 883.21 L179.96 884.31 L180.74 882.87 L180.59 883.84 L181.18 884.68 L181.50 883.48 L182.42 883.52 L182.84 883.57 L181.90 883.27 L182.59 884.85 L182.88 884.90 L184.07 886.01 L184.85 885.76 L184.92 886.80 L184.40 886.20 L185.41 884.53 L185.67 887.28 L185.66 886.34 L187.33 886.10 L187.64 886.76 L187.19 885.33 L188.49 885.98 L189.05 885.94 L189.40 886.59 L189.03 887.46 L189.57 888.91 L189.53 888.33 L191.25 888.87 L191.36 887.03 L190.97 887.65 L192.12 888.09 L193.00 889.86 L192.94 890.10 L192.79 889.37 L193.72 889.71 L194.57 889.00 L194.13 888.95 L194.59 888.93 L195.74 890.04 L195.86 889.33 L196.36 890.35 L196.78 890.19 L196.78 889.63 L197.39 890.53 L197.84 891.24 L198.29 891.49 L198.92 890.50 L199.26 891.11 L199.63 891.79 L200.48 891.80 L200.70 891.67 L201.20 892.38 L201.34 891.69 L201.93 891.76 L202.53 891.95 L202.82 892.43 L203.51 892.70 L203.66 892.70 L204.17 892.95 L204.71 893.48 L205.10 893.45 L205.54 893.64 L205.98 893.83 L206.42 894.02 L206.86 894.21 L207.30 894.40 L207.77 894.40 L208.24 894.40 L208.71 894.40 L209.18 894.40 L209.65 894.40 L210.12 894.40 L210.59 894.40 L211.06 894.40 L211.53 894.40 L212.00 894.40" fill="none" stroke="#111" stroke-width="1.3" stroke-linejoin="round" stroke-opacity="1"/>
<path d="M410.00 895.00 L410.45 894.96 L410.90 894.92 L411.35 894.89 L411.80 894.85 L412.25 894.81 L412.70 894.78 L413.15 894.74 L413.60 894.70 L414.06 894.64 L414.52 894.58 L414.98 894.51 L415.43 894.45 L415.89 894.39 L416.35 894.33 L416.81 894.26 L417.27 894.20 L417.73 894.14 L418.18 894.08 L418.64 894.01 L419.02 893.92 L419.46 893.65 L420.06 894.02 L420.51 893.56 L420.94 893.43 L421.27 893.53 L421.92 893.74 L422.19 893.52 L422.74 893.57 L423.07 893.51 L423.49 893.64 L424.10 893.04 L424.43 892.95 L425.27 893.26 L425.40 892.83 L425.82 893.05 L426.51 892.67 L426.68 892.60 L427.34 892.08 L428.02 893.04 L428.22 891.86 L428.48 892.23 L429.13 892.37 L429.44 892.46 L430.26 892.55 L430.22 891.78 L430.66 891.69 L431.55 891.91 L432.24 891.63 L432.48 890.64 L432.23 891.61 L432.43 890.35 L433.41 890.54 L433.69 889.66 L434.01 889.33 L434.67 888.72 L433.63 888.79 L434.93 887.48 L435.10 889.29 L435.72 886.96 L434.95 888.19 L436.01 886.90 L435.42 885.49 L436.88 886.13 L436.39 887.58 L437.33 886.99 L437.34 886.52 L437.71 886.46 L437.89 886.05 L438.00 883.52 L437.93 883.90 L438.35 883.17 L438.12 883.34 L438.69 882.05 L438.75 882.26 L438.60 882.28 L438.91 881.48 L439.68 881.72 L439.60 881.33 L440.35 879.41 L439.75 879.72 L439.97 878.68 L440.73 879.42 L440.78 878.36 L440.57 877.18 L440.55 877.16 L441.35 876.74 L440.76 877.36 L441.75 875.54 L441.77 876.29 L441.97 875.81 L441.27 874.37 L441.40 874.19 L442.27 875.45 L443.07 874.21 L442.21 874.16 L442.22 872.42 L443.28 873.28 L442.94 871.99 L443.28 870.96 L443.96 871.75 L444.03 871.70 L443.52 870.11 L444.40 869.32 L443.37 868.51 L444.55 868.35 L443.83 869.51 L444.73 869.06 L443.86 867.44 L444.22 867.96 L445.07 865.69 L444.48 866.15 L444.39 866.15 L444.69 864.10 L444.27 864.66 L445.43 864.20 L445.42 863.65 L444.84 864.03 L445.63 861.90 L445.21 863.11 L446.11 861.52 L445.35 863.07 L445.93 861.72 L445.29 860.54 L446.25 860.11 L446.17 860.45 L445.87 858.66 L446.26 858.75 L447.05 858.46 L447.28 857.32 L447.21 857.23 L446.94 856.80 L446.28 856.74 L447.47 857.47 L447.54 855.55 L447.94 855.70 L447.20 854.07 L447.65 854.12 L448.07 855.22 L447.54 854.14 L447.21 854.39 L448.19 852.43 L448.59 852.49 L447.92 851.06 L447.34 850.95 L447.53 850.17 L448.08 850.49 L447.94 850.43 L448.33 850.52 L447.91 850.86 L448.43 849.09 L449.01 848.25 L449.10 847.35 L448.41 847.32 L448.80 847.59 L448.20 846.21 L448.66 847.64 L449.13 844.84 L448.74 845.56 L449.53 844.54 L449.00 844.12 L448.99 845.40 L448.78 843.40 L449.55 843.68 L449.25 842.63 L449.86 841.58 L449.98 841.76 L449.91 841.08 L449.26 839.66 L449.98 841.82 L449.78 840.57 L449.43 839.56 L450.13 838.27 L449.65 839.28 L449.55 838.69 L449.66 838.15 L449.93 837.41 L449.75 837.08 L450.49 836.44 L450.13 835.02 L450.53 836.09 L450.92 835.47 L450.21 834.89 L451.13 834.08 L451.08 833.98 L450.73 832.97 L451.32 834.21 L450.38 832.88 L450.35 832.31 L451.71 832.77 L450.76 831.74 L450.68 831.62 L451.21 831.12 L451.77 828.40 L451.73 829.14 L451.36 829.38 L450.94 829.42 L451.18 829.08 L451.22 826.18 L450.89 825.85 L451.01 826.96 L451.29 825.21 L452.22 825.09 L452.19 826.40 L451.63 826.19 L451.46 825.20 L452.24 825.11 L451.47 824.12 L452.49 821.88 L452.10 822.72 L451.49 823.14 L451.98 822.23 L452.02 822.03 L452.76 819.93 L452.51 819.71 L451.86 820.81 L452.11 819.97 L451.91 818.21 L452.16 819.80 L452.39 818.11 L452.79 816.31 L453.01 817.87 L452.12 816.33 L452.90 815.86 L452.48 816.28 L452.18 815.46 L452.67 816.11 L453.15 814.51 L453.11 813.19 L453.28 813.18 L452.57 812.01 L452.91 813.07 L453.09 811.90 L452.93 811.01 L453.48 809.95 L453.57 810.21 L453.30 810.59 L452.68 810.35 L452.93 810.32 L453.65 810.11 L453.71 809.14 L453.54 808.01 L452.89 809.00 L453.22 806.17 L452.88 806.86 L453.91 805.60 L452.93 805.61 L453.55 804.58 L453.43 804.15 L453.41 804.67 L453.99 804.12 L454.15 802.31 L452.92 802.37 L453.69 803.50 L453.22 802.41 L453.37 802.64 L453.29 802.03 L453.90 801.15 L453.69 800.13 L453.94 798.82 L453.28 800.12 L454.11 799.27 L454.29 797.56 L453.21 799.26 L453.28 797.07 L453.31 796.63 L453.56 796.84 L453.88 795.86 L454.36 795.60 L453.44 796.13 L453.32 794.28 L453.49 794.13 L454.45 794.70 L453.68 795.09 L454.47 791.95 L454.74 792.55 L453.89 792.04 L454.81 790.69 L454.12 791.47 L454.61 790.80 L454.22 791.45 L454.15 789.17 L454.17 790.72 L454.41 789.62 L454.46 788.61 L454.46 787.55 L453.81 788.83 L454.96 786.99 L453.77 788.24 L454.66 786.81 L454.46 786.96 L454.24 784.51 L454.86 785.68 L454.76 783.80 L454.80 784.61 L454.52 782.37 L454.76 782.76 L454.13 782.33 L454.37 782.81 L454.42 782.69 L455.14 781.55 L455.05 779.88 L455.36 779.29 L455.08 778.71 L454.34 779.22 L454.81 778.83 L454.30 778.43 L454.57 778.27 L454.71 779.06 L454.52 777.11 L454.67 778.15 L455.40 776.78 L455.32 775.62 L454.43 774.84 L454.93 773.72 L454.61 775.59 L455.41 773.92 L454.58 773.00 L454.98 773.22 L455.66 773.94 L455.21 771.52 L454.49 771.56 L455.75 771.18 L455.31 770.32 L454.60 771.01 L454.68 771.15 L455.55 768.94 L455.10 767.70 L455.25 767.54 L454.82 766.77 L454.75 766.89 L454.93 766.06 L454.87 766.80 L455.28 767.19 L455.05 765.14 L454.80 766.33 L454.89 765.59 L455.35 765.70 L456.01 764.27 L454.93 762.43 L455.71 763.64 L455.32 763.26 L455.23 762.18 L455.41 761.56 L455.48 761.52 L456.00 760.20 L456.27 759.22 L455.51 759.91 L455.95 758.39 L456.28 759.03 L455.90 758.21 L455.75 759.21 L456.66 759.01 L456.77 758.58 L456.63 756.07 L455.82 756.62 L456.49 757.24 L456.41 756.26 L456.88 753.77 L456.07 753.58 L456.03 754.36 L456.80 753.48 L456.77 752.00 L456.55 751.57 L456.89 752.64 L456.24 750.49 L456.56 752.61 L456.58 750.66 L457.14 750.96 L456.71 750.38 L456.91 749.70 L457.56 748.18 L457.36 749.91 L456.97 749.53 L456.70 748.65 L457.41 747.92 L457.62 748.02 L456.87 747.40 L457.20 746.69 L457.10 744.91 L457.80 745.82 L457.60 745.49 L456.93 743.15 L457.05 743.81 L456.94 742.71 L457.84 741.75 L458.07 741.49 L458.11 741.33 L457.34 740.81 L457.03 740.61 L457.59 740.27 L458.31 738.64 L457.15 739.19 L457.52 740.37 L457.28 737.93 L458.29 737.04 L458.06 737.93 L457.80 736.53 L457.97 738.10 L458.74 737.69 L458.74 734.81 L458.60 734.06 L458.62 735.81 L458.84 734.62 L458.51 733.05 L458.36 732.90 L458.84 732.24 L458.99 732.84 L458.79 732.54 L459.14 732.90 L458.51 731.45 L458.62 732.00 L458.61 729.23 L459.49 730.47 L459.16 729.85 L459.36 730.21 L458.96 728.39 L458.80 728.81 L459.27 726.54 L458.79 728.05 L459.74 727.24 L458.72 725.23 L459.04 725.80 L460.01 726.63 L459.77 724.77 L458.94 724.84 L458.99 725.34 L459.42 722.37 L459.50 721.76 L460.21 722.41 L460.10 721.96 L459.78 722.54 L459.43 720.57 L459.62 720.80 L459.85 720.76 L460.06 719.39 L459.57 720.80 L459.37 718.48 L459.51 717.33 L460.67 717.78 L460.92 718.08 L460.46 718.00 L459.73 716.81 L460.15 715.79 L459.95 715.98 L460.45 715.29 L460.57 714.68 L461.20 713.15 L461.19 714.67 L461.36 712.32 L462.08 714.01 L460.94 713.26 L461.98 713.16 L462.51 711.04 L462.65 712.15 L462.38 710.09 L462.16 710.03 L462.79 710.66 L462.86 709.03 L463.00 711.17 L463.11 711.60 L462.47 712.30 L463.31 711.28 L464.00 712.50 L463.42 712.68 L463.61 713.19 L464.30 713.86 L463.53 712.39 L463.27 715.28 L463.34 715.51 L464.45 715.59 L463.89 714.91 L464.37 715.35 L464.26 716.67 L464.26 716.57 L464.56 718.80 L463.85 719.26 L464.07 718.52 L464.68 718.51 L464.37 718.50 L464.92 720.65 L464.02 719.01 L464.98 720.81 L464.88 720.36 L464.51 721.46 L463.89 723.40 L464.06 722.18 L464.32 722.08 L464.75 724.12 L465.11 722.96 L464.23 724.49 L465.23 725.82 L465.44 724.58 L464.50 726.69 L465.44 724.88 L464.41 727.64 L465.40 727.93 L465.53 728.01 L464.87 729.44 L465.75 729.47 L465.47 728.47 L465.75 729.96 L464.99 730.08 L465.41 729.65 L465.90 729.78 L465.10 732.34 L465.75 732.25 L465.96 731.09 L465.35 733.34 L465.37 731.91 L465.69 734.25 L465.32 734.82 L465.64 733.28 L465.43 735.90 L466.31 734.09 L466.25 734.58 L465.72 735.01 L466.65 737.08 L466.11 736.82 L466.02 736.21 L466.70 737.25 L466.75 739.02 L466.69 738.95 L466.30 738.27 L466.22 739.18 L466.18 740.88 L466.33 740.17 L466.88 742.12 L466.58 741.50 L467.42 743.18 L466.94 742.32 L466.55 743.93 L466.39 742.70 L467.36 743.84 L466.94 743.33 L467.06 746.12 L467.61 744.88 L467.00 746.76 L467.42 745.07 L467.86 747.26 L467.05 747.49 L467.07 747.54 L467.37 747.81 L468.03 749.57 L467.48 750.07 L467.05 750.63 L467.80 750.97 L467.53 751.29 L467.03 752.08 L468.19 752.14 L468.25 751.27 L468.19 751.28 L467.76 752.45 L468.35 752.15 L467.41 754.10 L467.64 755.26 L467.96 754.03 L468.67 755.05 L468.36 756.54 L467.67 755.37 L468.29 755.00 L468.24 756.90 L468.24 758.48 L468.29 757.17 L469.07 757.12 L468.56 758.75 L468.22 758.75 L468.62 758.90 L469.37 759.72 L468.36 760.51 L468.36 759.54 L469.30 760.82 L468.60 762.80 L468.95 762.95 L469.15 762.73 L468.56 761.80 L469.50 764.01 L469.89 763.66 L469.09 765.35 L469.51 763.70 L469.11 765.81 L469.55 764.56 L469.96 764.99 L469.39 767.10 L469.39 767.06 L469.39 766.79 L469.83 769.01 L469.75 769.19 L470.17 769.90 L469.95 769.93 L469.73 770.13 L470.46 771.74 L470.48 770.97 L470.11 770.21 L470.89 771.04 L470.39 770.89 L470.92 773.74 L470.31 773.78 L470.94 772.88 L471.02 773.52 L471.14 774.12 L471.27 775.20 L470.72 776.82 L470.27 777.28 L470.36 777.43 L470.92 776.96 L470.88 778.05 L471.60 776.93 L471.62 778.35 L470.67 778.64 L470.99 779.88 L470.75 779.50 L471.74 779.37 L471.76 781.24 L471.95 780.80 L471.28 781.89 L471.89 781.97 L471.39 782.97 L471.65 782.26 L471.72 782.12 L472.10 784.35 L472.38 783.25 L472.47 783.55 L471.61 784.10 L472.26 784.85 L472.84 785.36 L472.04 787.69 L472.67 787.62 L472.09 787.55 L473.12 789.09 L472.29 786.93 L472.15 788.25 L473.18 789.01 L473.14 788.33 L472.03 789.59 L472.44 791.70 L472.27 790.24 L472.32 791.13 L472.55 791.06 L472.87 792.64 L473.02 792.33 L473.35 794.10 L473.66 793.35 L473.21 795.07 L472.93 794.64 L473.76 794.14 L472.70 795.93 L473.85 797.27 L473.63 795.24 L473.45 796.27 L473.29 798.38 L473.84 797.89 L473.89 797.48 L474.49 798.58 L474.21 798.37 L473.70 798.40 L473.63 799.07 L473.77 800.67 L473.77 801.86 L474.94 801.83 L474.14 800.89 L474.60 803.12 L474.52 804.04 L475.49 802.99 L475.60 803.29 L474.64 805.27 L475.78 804.75 L475.75 804.00 L475.71 806.29 L474.91 806.25 L475.02 807.70 L475.99 807.66 L476.04 806.80 L476.23 807.51 L476.59 806.93 L476.51 808.33 L476.63 809.02 L476.36 808.99 L476.38 808.67 L477.01 809.26 L476.52 811.38 L477.36 812.65 L476.26 813.04 L477.27 812.77 L476.38 812.94 L477.08 814.27 L477.72 813.79 L476.73 813.33 L477.18 815.59 L477.10 813.56 L478.06 816.67 L477.34 814.91 L478.17 817.27 L477.53 816.83 L478.79 816.80 L478.16 816.09 L479.08 816.68 L479.13 817.25 L478.92 819.76 L478.98 817.96 L478.81 819.66 L478.95 819.13 L478.52 821.41 L479.04 822.05 L478.89 820.79 L479.58 821.77 L480.03 822.52 L479.61 822.79 L479.30 824.57 L479.57 822.29 L479.39 823.56 L479.38 824.29 L480.12 826.14 L480.53 826.46 L480.72 826.48 L480.79 825.72 L480.66 825.90 L481.08 827.43 L480.58 826.67 L481.34 828.95 L480.49 829.82 L480.58 828.11 L481.58 829.99 L481.74 830.21 L481.55 830.28 L481.78 831.86 L481.80 831.56 L482.15 831.54 L481.38 832.20 L481.88 832.24 L482.16 832.71 L482.02 832.96 L482.08 833.59 L481.78 835.57 L482.75 833.34 L482.46 834.85 L482.43 835.85 L482.03 835.31 L483.41 837.54 L482.84 836.34 L482.36 836.89 L483.54 838.94 L482.81 837.56 L483.66 839.29 L483.18 839.10 L483.84 838.89 L484.02 841.10 L483.74 839.45 L484.00 842.34 L483.29 841.31 L484.20 840.65 L484.40 841.12 L484.02 843.24 L484.75 844.32 L483.67 844.00 L484.21 844.37 L485.01 843.87 L483.97 845.67 L484.37 844.71 L484.44 846.12 L485.21 846.20 L485.17 845.93 L485.58 846.79 L484.80 848.98 L484.59 848.46 L485.40 848.36 L485.09 849.45 L484.88 848.21 L485.03 850.13 L485.75 849.87 L485.69 851.98 L485.88 850.62 L486.25 851.13 L485.61 851.24 L486.60 852.48 L485.69 852.17 L485.81 852.52 L486.15 853.53 L486.28 855.17 L486.38 854.81 L487.19 856.09 L487.33 855.55 L487.52 855.50 L487.21 856.71 L486.75 856.75 L487.72 856.50 L487.57 857.57 L487.44 858.29 L487.06 858.02 L487.87 858.82 L487.03 859.84 L487.75 860.75 L487.61 859.39 L488.51 860.23 L487.93 861.62 L487.99 861.22 L488.17 861.74 L488.90 863.61 L489.15 863.79 L488.18 864.11 L488.36 862.84 L488.98 863.88 L489.17 865.90 L488.80 865.24 L489.62 867.23 L488.74 865.88 L489.15 868.11 L489.06 868.17 L489.51 868.07 L489.54 869.17 L489.51 867.40 L490.71 869.82 L490.40 869.80 L489.94 869.23 L491.05 869.12 L490.64 869.44 L490.15 870.74 L491.30 871.42 L490.44 871.31 L491.34 872.80 L490.88 872.89 L490.99 874.32 L491.39 872.78 L491.92 874.15 L492.48 874.68 L492.33 876.06 L493.05 874.09 L492.54 874.44 L493.15 875.21 L492.69 877.42 L493.92 876.47 L493.09 878.00 L494.25 878.41 L493.57 878.05 L494.01 879.17 L494.00 878.12 L494.16 879.29 L494.96 879.66 L494.97 880.55 L494.78 881.63 L496.22 880.70 L496.47 882.58 L496.19 882.70 L496.50 883.15 L496.31 881.66 L497.44 881.99 L497.04 883.01 L496.87 884.00 L498.10 884.86 L498.48 885.50 L497.71 884.55 L498.74 886.18 L498.50 885.48 L499.45 885.25 L499.68 886.50 L499.25 886.55 L500.21 887.33 L500.03 888.66 L500.47 888.42 L501.33 889.19 L501.14 888.62 L502.24 888.13 L501.80 889.89 L502.03 888.25 L502.22 890.80 L503.20 890.67 L503.58 890.35 L503.96 890.33 L504.68 890.01 L504.31 890.39 L505.12 891.69 L505.58 892.09 L505.51 892.46 L506.09 891.34 L506.47 892.59 L507.28 892.48 L507.55 892.27 L508.09 893.26 L508.38 892.97 L508.99 893.09 L509.29 893.68 L509.72 893.56 L510.15 893.89 L510.50 894.10 L510.96 894.18 L511.42 894.25 L511.88 894.33 L512.33 894.40 L512.79 894.48 L513.25 894.55 L513.71 894.62 L514.17 894.70 L514.62 894.77 L515.08 894.85 L515.54 894.92 L516.00 895.00" fill="none" stroke="#111" stroke-width="1.3" stroke-linejoin="round" stroke-opacity="1"/>
<path d="M405.00 895.00 L405.46 894.99 L405.93 894.98 L406.39 894.97 L406.86 894.96 L407.32 894.95 L407.79 894.94 L408.25 894.92 L408.71 894.91 L409.18 894.90 L409.64 894.89 L410.11 894.88 L410.57 894.87 L411.04 894.86 L411.50 894.85 L411.96 894.84 L412.43 894.83 L412.89 894.82 L413.36 894.81 L413.82 894.80 L414.29 894.79 L414.75 894.78 L415.21 894.76 L415.68 894.75 L416.14 894.74 L416.61 894.73 L417.07 894.72 L417.54 894.71 L418.00 894.70 L418.45 894.66 L418.91 894.61 L419.36 894.57 L419.81 894.52 L420.26 894.48 L420.72 894.44 L421.17 894.39 L421.62 894.35 L422.08 894.30 L422.53 894.26 L422.98 894.21 L423.44 894.17 L423.89 894.13 L424.34 894.08 L424.79 894.04 L425.32 893.94 L425.69 894.03 L426.22 893.93 L426.71 893.88 L427.15 893.58 L427.51 893.88 L427.88 893.91 L428.47 893.60 L428.84 893.82 L429.37 893.87 L429.67 893.29 L430.25 893.26 L430.61 893.36 L431.00 893.39 L431.70 893.64 L432.02 893.37 L432.53 893.16 L433.11 893.14 L433.48 893.53 L433.59 893.18 L434.06 892.25 L434.46 891.91 L435.07 892.60 L435.05 892.32 L435.26 891.03 L435.62 890.78 L436.17 890.88 L436.75 890.85 L436.88 890.43 L437.62 890.43 L437.77 890.12 L437.93 889.28 L438.49 887.98 L438.52 889.05 L439.72 889.34 L440.01 889.03 L439.61 887.86 L440.65 887.04 L440.27 888.46 L440.92 885.82 L441.39 886.22 L441.85 885.22 L442.10 885.34 L441.54 884.90 L442.50 884.11 L442.51 884.68 L442.34 882.99 L443.03 884.17 L442.15 884.24 L443.39 882.47 L443.51 882.43 L442.56 881.33 L443.02 882.57 L443.30 881.22 L444.16 880.84 L444.26 881.30 L444.36 879.22 L444.05 878.23 L444.02 880.03 L444.58 878.22 L444.90 877.48 L444.34 878.06 L444.48 878.28 L444.98 877.32 L444.82 875.57 L445.86 877.19 L445.94 875.45 L446.19 876.23 L445.50 874.73 L446.44 874.25 L446.15 874.31 L445.93 874.13 L446.55 873.00 L446.65 871.69 L446.35 870.82 L445.97 871.69 L446.41 872.07 L446.47 869.86 L446.58 870.38 L446.27 868.52 L446.41 869.78 L447.31 868.23 L447.48 869.24 L446.52 867.14 L447.32 868.08 L446.72 866.70 L447.07 866.41 L448.05 866.33 L447.06 864.98 L447.18 865.69 L447.67 864.11 L447.62 865.49 L447.89 863.44 L447.90 862.62 L447.89 863.46 L447.82 863.24 L448.44 861.13 L448.88 861.52 L448.76 860.24 L448.40 861.14 L448.78 859.39 L448.70 860.46 L449.05 859.32 L448.82 859.20 L448.96 857.74 L449.57 858.16 L449.25 858.78 L448.94 856.73 L449.65 857.01 L449.68 855.64 L449.41 856.99 L449.55 856.40 L450.16 855.26 L449.62 853.74 L449.38 855.16 L449.92 853.09 L450.15 853.69 L450.24 853.68 L449.57 851.01 L450.04 850.64 L450.20 850.17 L449.86 851.18 L450.16 851.26 L450.13 851.06 L450.40 849.80 L450.73 848.49 L450.14 847.42 L450.94 847.73 L449.97 847.72 L450.70 846.78 L450.15 847.56 L450.53 847.04 L450.61 845.98 L451.34 845.32 L451.30 846.03 L451.08 845.14 L450.33 843.26 L451.14 844.47 L450.75 843.54 L451.53 842.22 L450.49 842.40 L450.93 841.49 L451.73 840.39 L451.58 841.95 L451.15 839.34 L451.56 839.15 L451.68 840.38 L450.93 839.88 L450.94 837.57 L451.87 839.11 L451.20 837.88 L451.11 838.24 L451.01 836.52 L451.55 837.65 L452.06 836.69 L452.33 835.79 L452.30 835.80 L451.33 835.81 L451.55 834.85 L451.73 833.37 L451.44 834.52 L451.56 832.74 L452.05 833.64 L452.12 832.48 L451.95 832.19 L452.48 830.89 L452.70 831.14 L452.70 829.75 L452.41 830.32 L452.45 829.09 L451.93 827.84 L452.01 827.96 L452.76 826.88 L452.69 828.07 L452.86 826.36 L452.78 827.39 L452.76 825.51 L452.45 825.46 L453.21 824.42 L453.34 825.13 L452.58 823.58 L452.38 823.94 L453.00 822.99 L453.49 822.98 L453.21 822.76 L453.43 822.33 L452.53 821.35 L453.53 822.38 L452.76 819.88 L453.46 819.66 L452.74 818.99 L452.76 819.41 L453.26 818.40 L452.85 817.82 L453.18 817.51 L453.43 817.21 L453.37 816.85 L454.03 815.58 L453.66 816.86 L453.40 814.64 L453.71 816.35 L454.19 814.23 L453.40 815.43 L453.97 814.04 L453.72 812.67 L454.19 813.43 L454.17 813.00 L453.56 811.95 L454.53 810.63 L454.65 812.22 L454.53 809.88 L454.07 809.66 L454.73 809.28 L454.47 810.27 L454.37 808.72 L453.71 807.92 L453.08 808.42 L452.95 807.26 L453.08 807.80 L453.21 805.75 L453.67 806.50 L453.96 805.77 L453.21 805.86 L453.19 804.87 L453.19 803.71 L453.46 802.86 L453.86 804.34 L453.36 801.97 L453.76 802.72 L453.26 800.91 L453.90 801.74 L454.13 800.12 L453.94 800.04 L453.67 800.28 L453.76 800.82 L453.96 799.11 L454.53 799.65 L454.02 799.02 L454.16 798.44 L454.59 798.56 L453.71 797.62 L454.00 796.71 L454.44 795.44 L454.38 794.96 L454.07 795.14 L454.46 795.20 L454.81 795.43 L453.96 794.51 L454.26 793.74 L454.23 793.93 L453.75 792.07 L454.39 791.89 L453.90 791.04 L453.89 791.00 L454.36 789.80 L454.46 789.76 L454.35 789.74 L453.93 788.33 L455.10 788.89 L454.39 787.77 L454.88 787.40 L454.97 787.36 L454.21 785.73 L454.52 785.75 L454.56 785.76 L454.65 786.66 L455.30 785.26 L454.88 784.97 L454.59 784.95 L455.36 782.59 L454.94 783.33 L455.15 781.75 L455.05 782.03 L455.41 781.36 L454.66 781.10 L454.62 781.90 L454.96 779.95 L454.54 781.20 L455.38 778.89 L454.94 778.11 L455.32 779.35 L454.63 778.91 L454.94 778.69 L455.10 778.05 L455.13 777.77 L454.76 775.79 L454.66 775.91 L455.68 774.65 L455.69 775.18 L455.25 773.70 L454.83 774.01 L455.82 773.06 L455.35 773.70 L455.80 772.97 L455.50 773.34 L455.86 770.71 L455.12 770.53 L455.47 770.00 L455.43 770.61 L455.07 769.89 L455.57 770.02 L455.95 768.58 L456.08 769.64 L455.08 769.29 L455.56 767.40 L455.93 766.62 L455.23 767.72 L456.25 766.31 L455.65 766.77 L455.68 764.43 L456.10 764.96 L455.51 763.70 L455.21 765.16 L455.34 763.81 L455.75 763.68 L455.54 763.65 L455.56 763.07 L455.42 760.62 L455.80 760.23 L455.79 761.92 L455.42 760.85 L456.05 759.91 L456.12 758.45 L455.84 758.83 L456.30 759.29 L455.63 757.13 L455.84 756.51 L456.71 757.45 L456.60 757.79 L456.54 755.31 L456.18 756.38 L456.35 756.48 L455.92 753.92 L456.41 753.49 L456.73 754.21 L455.74 752.28 L456.06 754.13 L456.81 751.98 L456.75 751.15 L456.49 752.58 L455.85 751.43 L456.60 750.96 L456.51 750.90 L456.18 748.87 L456.03 749.70 L456.26 747.93 L456.63 749.13 L457.16 747.61 L456.31 747.69 L457.07 747.20 L456.59 746.27 L457.28 746.31 L456.33 746.00 L456.53 745.41 L457.02 744.69 L456.79 743.14 L456.93 743.39 L456.79 744.14 L456.60 743.23 L456.89 741.87 L456.57 742.08 L457.02 742.14 L456.85 740.65 L457.76 741.31 L457.10 741.05 L457.57 738.52 L457.85 737.96 L457.24 739.08 L457.67 738.06 L457.31 736.93 L457.70 737.99 L457.02 737.05 L457.22 735.72 L457.69 734.83 L458.04 735.67 L458.05 735.18 L457.58 734.53 L457.53 733.63 L457.57 734.75 L457.43 732.06 L457.76 732.07 L457.60 732.37 L457.96 732.93 L457.09 730.46 L457.79 731.48 L457.68 730.92 L457.64 728.99 L457.83 730.46 L457.27 728.11 L457.79 729.72 L458.00 727.49 L458.20 728.87 L458.15 727.75 L457.75 725.96 L457.61 727.24 L458.26 725.20 L457.24 726.09 L457.91 724.10 L458.00 725.79 L457.40 725.15 L457.50 723.98 L457.48 722.95 L457.37 722.81 L458.10 722.83 L458.26 722.97 L458.39 720.53 L458.49 721.20 L457.48 720.63 L457.60 720.69 L458.05 720.91 L458.01 720.27 L458.23 718.43 L458.00 718.90 L457.96 717.41 L457.75 718.02 L458.07 716.23 L457.58 716.98 L458.69 715.60 L458.47 715.13 L457.67 714.77 L458.63 714.75 L457.67 714.99 L458.38 714.36 L458.46 713.37 L457.90 713.01 L457.86 712.98 L458.75 711.60 L458.36 711.76 L458.36 711.65 L458.46 710.41 L458.24 709.09 L459.03 708.67 L458.65 710.30 L458.91 708.05 L458.87 707.89 L458.65 708.32 L458.27 708.08 L458.63 707.85 L459.00 707.21 L458.51 705.55 L458.13 705.35 L458.89 706.13 L458.74 704.75 L458.19 705.23 L458.96 703.52 L458.75 703.49 L458.45 702.38 L458.61 702.91 L459.33 703.09 L458.62 702.71 L458.46 701.16 L458.47 700.33 L459.57 700.21 L458.91 700.38 L459.63 698.76 L459.58 697.76 L458.69 699.23 L459.43 699.00 L459.21 697.19 L459.37 697.26 L459.86 697.43 L458.84 695.67 L459.65 696.30 L459.01 695.54 L460.05 693.69 L459.58 693.93 L459.29 694.93 L459.18 693.66 L460.03 693.03 L460.11 691.60 L460.23 693.09 L460.42 692.20 L459.99 691.57 L460.34 691.37 L460.22 690.44 L459.87 688.90 L460.54 688.80 L459.90 689.43 L459.67 689.49 L460.04 686.79 L460.83 686.37 L460.20 686.58 L460.42 687.32 L460.35 686.32 L461.02 685.45 L460.54 684.56 L460.13 684.58 L460.61 683.32 L460.57 684.43 L461.22 682.20 L461.20 681.93 L460.96 681.25 L460.54 681.03 L461.18 681.23 L460.82 680.81 L460.99 680.27 L461.55 679.52 L460.61 678.84 L460.92 679.24 L460.59 679.20 L461.02 678.63 L460.99 678.78 L461.06 677.13 L461.06 676.91 L461.26 676.78 L461.16 676.42 L461.52 675.35 L461.68 675.52 L461.07 674.37 L461.22 673.14 L461.33 672.85 L461.59 673.53 L461.54 673.66 L461.55 671.60 L462.22 670.90 L461.77 671.47 L462.35 671.57 L462.34 670.19 L462.21 670.27 L462.19 668.45 L462.28 670.03 L462.01 668.83 L463.01 669.62 L462.49 669.12 L462.42 669.92 L462.34 669.66 L462.87 671.27 L463.48 672.38 L463.53 672.65 L462.50 673.03 L463.71 671.79 L463.35 674.04 L463.21 673.89 L462.93 673.89 L463.16 674.65 L463.94 674.09 L464.03 675.63 L463.74 675.41 L464.12 675.82 L463.97 676.11 L463.66 677.39 L463.93 676.71 L464.40 678.22 L463.71 677.91 L464.53 678.61 L464.40 678.88 L463.81 678.86 L464.38 680.93 L464.43 679.95 L464.40 682.39 L464.51 681.93 L464.13 682.26 L464.85 683.61 L464.57 682.78 L465.42 682.85 L464.78 684.87 L465.02 684.76 L464.43 684.25 L464.61 685.98 L464.47 686.03 L464.67 685.18 L465.24 687.15 L465.32 688.42 L464.58 687.75 L465.18 689.25 L464.67 689.46 L465.22 689.86 L465.16 688.83 L465.40 688.95 L465.58 689.75 L465.59 690.09 L465.65 691.61 L465.18 692.87 L465.33 692.68 L465.87 693.64 L465.63 693.78 L466.03 693.03 L466.11 695.19 L465.98 694.13 L466.03 695.40 L465.60 696.15 L466.04 695.63 L465.76 696.71 L465.18 697.69 L465.73 696.08 L466.21 696.73 L466.31 697.17 L465.46 697.96 L466.16 699.68 L466.11 699.32 L466.58 700.12 L466.14 700.47 L466.03 700.82 L465.72 701.82 L466.75 702.28 L466.34 702.91 L465.85 702.39 L466.43 702.22 L466.87 704.57 L466.78 703.35 L466.50 705.31 L466.20 705.89 L466.64 705.09 L466.61 706.49 L467.16 705.93 L466.67 706.60 L466.80 706.66 L466.70 708.27 L466.90 708.62 L467.52 707.52 L467.06 708.64 L466.71 710.71 L466.75 709.02 L467.58 709.69 L466.65 711.03 L467.26 710.89 L467.07 711.12 L467.28 713.33 L467.51 712.17 L467.46 712.34 L466.99 714.07 L467.30 714.29 L467.71 715.22 L467.74 716.07 L467.28 714.78 L468.08 716.48 L467.65 715.40 L467.76 716.38 L467.91 718.25 L468.20 718.40 L468.07 717.73 L467.95 718.42 L468.22 719.25 L468.47 718.84 L467.89 719.27 L468.74 721.38 L468.75 720.68 L468.79 720.34 L467.74 721.19 L467.93 722.99 L467.79 723.42 L468.26 722.37 L468.44 722.73 L468.81 723.81 L469.12 724.62 L468.22 725.91 L469.13 726.55 L468.73 726.16 L468.51 725.66 L468.39 726.23 L468.58 727.63 L468.90 728.45 L468.35 729.04 L468.88 729.54 L468.59 729.48 L468.82 730.08 L469.06 730.60 L468.75 729.65 L468.44 731.57 L469.10 731.74 L468.87 732.39 L469.08 732.27 L468.62 733.37 L468.88 733.25 L468.90 733.89 L468.90 733.42 L469.09 735.53 L469.56 735.94 L469.37 734.93 L469.86 734.76 L468.90 736.70 L469.39 736.88 L469.17 737.70 L469.60 738.73 L469.87 737.17 L469.28 739.57 L469.97 739.60 L469.06 740.47 L469.30 740.81 L469.84 741.18 L470.12 740.82 L470.26 742.09 L469.77 742.91 L469.91 742.83 L469.72 742.48 L469.40 743.19 L470.18 743.05 L470.02 744.91 L469.82 744.98 L470.03 745.16 L469.78 744.25 L469.52 747.01 L469.38 746.26 L470.30 746.20 L470.29 746.12 L470.39 748.41 L470.49 747.57 L469.93 748.30 L470.07 750.14 L469.57 749.94 L469.77 748.77 L470.47 749.47 L470.65 750.27 L469.75 751.75 L469.92 752.28 L469.65 752.29 L470.53 753.48 L470.43 753.33 L469.78 753.20 L470.53 753.62 L469.83 754.64 L470.25 754.32 L469.76 754.23 L469.89 755.73 L469.90 757.24 L470.72 757.35 L470.44 756.76 L470.55 758.84 L471.00 757.84 L471.00 757.99 L470.38 758.56 L470.67 759.03 L470.74 760.84 L471.12 759.61 L470.56 761.36 L470.10 762.12 L470.94 761.97 L470.82 762.85 L470.61 761.59 L470.79 762.54 L470.63 763.30 L470.81 764.09 L470.49 765.39 L470.43 764.36 L471.28 764.42 L470.47 766.80 L471.46 765.91 L471.60 767.57 L470.85 768.32 L470.84 766.55 L470.61 768.05 L471.22 767.90 L470.89 769.37 L471.16 768.48 L470.96 768.85 L471.83 769.33 L470.98 771.64 L471.99 771.91 L471.40 771.99 L471.19 772.85 L472.29 771.44 L472.30 772.31 L471.31 774.04 L472.09 772.90 L472.17 773.48 L471.70 775.19 L471.73 775.17 L472.29 776.56 L472.33 776.58 L472.71 775.52 L472.32 777.69 L472.34 777.69 L472.45 778.53 L472.48 777.83 L471.92 778.13 L473.02 779.32 L472.28 780.24 L472.78 780.18 L472.69 780.80 L473.02 781.08 L472.87 782.42 L473.12 782.64 L472.67 781.50 L472.84 782.41 L472.82 783.28 L473.41 784.95 L473.42 783.89 L472.83 785.67 L473.84 785.41 L473.80 785.25 L473.18 786.73 L473.82 785.60 L473.33 786.70 L473.85 787.26 L474.13 788.74 L473.30 788.88 L473.15 788.38 L473.61 788.42 L473.83 788.82 L474.10 789.16 L473.67 790.28 L473.82 791.38 L474.49 790.25 L474.60 792.45 L473.92 791.79 L473.83 793.21 L474.50 794.30 L473.83 793.75 L474.34 793.56 L474.06 795.68 L474.04 795.20 L474.90 796.56 L474.96 796.63 L474.40 795.56 L474.83 795.67 L474.45 796.22 L475.39 796.89 L474.69 798.82 L474.59 799.70 L474.91 798.16 L474.63 800.20 L475.22 800.61 L475.03 801.08 L474.80 799.72 L475.35 801.80 L475.04 802.35 L475.11 801.63 L475.76 803.45 L475.84 802.23 L475.59 802.40 L476.00 803.38 L475.96 804.93 L475.25 804.13 L476.09 805.64 L476.32 804.58 L475.81 807.16 L476.21 806.70 L476.27 808.12 L476.47 807.59 L475.64 807.98 L476.36 808.51 L476.59 808.40 L476.75 808.53 L477.70 810.19 L477.91 809.90 L477.59 809.55 L477.97 811.48 L477.30 811.08 L477.90 812.90 L477.65 812.61 L477.99 811.77 L478.44 812.91 L478.35 813.98 L478.41 814.21 L478.77 813.61 L478.36 815.13 L477.82 814.64 L478.65 816.33 L478.15 816.69 L478.83 816.70 L479.07 817.52 L478.97 816.65 L478.86 816.91 L478.27 818.61 L479.05 818.79 L478.41 820.31 L479.34 819.90 L479.52 819.41 L478.93 821.83 L478.76 820.53 L479.15 821.00 L479.84 822.62 L479.93 822.71 L479.64 822.84 L479.42 822.27 L479.15 822.77 L479.19 825.11 L479.75 824.34 L479.23 825.33 L480.07 824.78 L479.44 825.93 L479.84 826.56 L479.52 828.26 L479.62 826.74 L480.75 828.08 L479.80 829.07 L480.16 828.95 L480.64 830.45 L480.17 830.01 L480.56 830.05 L480.67 830.36 L480.57 830.12 L480.61 832.72 L481.10 832.01 L481.17 833.20 L481.23 832.61 L481.21 832.63 L480.79 832.63 L481.07 833.47 L480.76 835.27 L480.94 836.05 L482.06 836.67 L482.02 836.32 L481.64 837.55 L481.23 837.79 L482.06 838.06 L481.55 838.50 L482.08 837.29 L482.37 838.99 L482.32 838.41 L482.03 840.76 L482.97 840.85 L482.43 840.95 L482.56 840.78 L482.18 840.53 L482.38 841.35 L482.70 843.29 L483.03 843.68 L483.52 844.18 L483.07 844.18 L483.30 843.51 L483.71 844.12 L483.57 843.92 L483.40 845.08 L484.16 846.02 L483.50 847.55 L484.31 847.91 L483.93 847.33 L484.29 846.99 L484.35 848.13 L484.27 849.62 L484.27 849.53 L484.25 848.62 L484.01 848.91 L484.34 851.56 L484.49 849.98 L484.79 850.25 L484.41 851.10 L485.35 852.53 L485.19 851.49 L485.00 853.30 L484.52 853.36 L485.23 853.64 L485.89 854.05 L485.81 854.50 L485.85 856.07 L485.59 855.74 L485.23 857.02 L485.20 855.98 L485.83 857.06 L486.50 858.61 L486.08 857.73 L486.48 857.45 L485.88 858.89 L485.82 860.18 L486.44 858.98 L486.14 861.35 L487.02 860.04 L487.28 860.65 L486.55 860.33 L487.38 861.46 L487.27 861.41 L487.72 863.73 L486.71 863.97 L487.01 863.64 L487.14 863.21 L487.64 865.12 L487.39 864.11 L488.25 864.40 L487.81 866.49 L488.51 867.43 L487.74 866.06 L488.29 866.46 L488.25 867.87 L488.36 868.74 L488.63 868.08 L487.98 870.04 L488.19 869.37 L488.64 870.43 L489.02 871.09 L489.01 871.82 L489.58 871.39 L488.92 872.33 L489.71 871.09 L489.81 871.43 L489.60 873.96 L489.63 874.44 L489.72 874.39 L489.33 873.52 L490.02 875.15 L490.39 874.05 L490.27 874.77 L490.94 876.62 L491.42 876.69 L491.22 876.33 L491.34 876.70 L492.21 877.91 L492.24 877.14 L491.64 877.33 L492.80 878.84 L493.30 878.37 L492.73 879.68 L493.60 880.16 L493.92 879.06 L493.39 880.15 L493.94 880.39 L493.90 881.13 L494.54 880.40 L494.86 882.36 L495.29 881.97 L494.66 881.44 L495.50 881.77 L495.43 883.32 L495.49 883.65 L496.97 882.81 L496.23 885.18 L497.09 884.95 L497.82 885.00 L498.27 885.58 L498.57 886.01 L498.79 884.98 L499.23 885.80 L499.62 887.26 L499.26 887.50 L500.06 887.28 L500.10 886.49 L500.64 888.04 L500.84 887.83 L500.90 889.11 L501.85 889.31 L501.73 888.90 L502.49 889.37 L502.29 889.12 L503.10 889.60 L503.83 889.34 L503.98 890.24 L503.74 890.28 L504.65 890.44 L505.40 890.17 L505.38 891.19 L505.64 890.56 L506.34 891.24 L506.64 891.24 L507.10 891.60 L507.49 892.31 L507.95 892.56 L508.38 892.08 L508.86 892.63 L509.11 893.18 L509.51 893.23 L509.87 893.20 L510.48 893.46 L510.94 893.35 L511.30 893.45 L511.85 893.78 L512.21 893.61 L512.66 894.15 L513.14 894.11 L513.58 894.26 L514.02 894.41 L514.46 894.55 L514.90 894.70 L515.36 894.73 L515.83 894.75 L516.29 894.78 L516.75 894.81 L517.22 894.84 L517.68 894.86 L518.15 894.89 L518.61 894.92 L519.07 894.95 L519.54 894.97 L520.00 895.00" fill="none" stroke="#7ee455" stroke-width="1.25" stroke-linejoin="round" stroke-opacity="1"/>
<path d="M385.00 895.00 L385.49 895.00 L385.98 895.00 L386.47 895.00 L386.96 895.00 L387.44 895.00 L387.93 895.00 L388.42 895.00 L388.91 895.00 L389.40 895.00 L389.86 894.96 L390.33 894.93 L390.79 894.89 L391.25 894.85 L391.72 894.82 L392.18 894.78 L392.64 894.74 L393.11 894.71 L393.57 894.67 L394.03 894.63 L394.49 894.59 L394.96 894.56 L395.42 894.52 L395.88 894.48 L396.35 894.45 L396.81 894.41 L397.27 894.37 L397.74 894.34 L398.20 894.30 L398.64 894.15 L399.08 894.01 L399.54 893.77 L400.07 893.65 L400.29 893.85 L400.74 893.26 L401.21 893.25 L401.86 893.27 L401.97 892.65 L402.52 892.52 L403.01 892.37 L403.59 892.43 L404.17 892.90 L404.44 892.18 L404.86 891.70 L405.47 892.44 L405.47 891.38 L406.25 892.22 L406.26 891.91 L406.66 891.57 L407.60 891.47 L407.32 890.50 L408.55 890.92 L408.34 890.43 L409.15 889.55 L409.05 890.61 L410.13 888.66 L409.86 888.83 L410.57 888.25 L410.63 889.56 L410.91 888.95 L411.76 887.61 L412.07 888.63 L412.53 887.69 L413.04 887.91 L412.73 886.68 L413.27 885.12 L413.00 885.65 L413.60 886.77 L413.48 886.22 L414.64 884.43 L414.73 884.77 L414.27 883.92 L415.30 884.33 L415.30 883.07 L415.45 883.45 L415.67 882.25 L416.20 882.46 L416.48 881.09 L416.59 880.78 L417.09 880.37 L417.18 881.31 L416.90 879.56 L417.43 879.27 L417.59 877.90 L417.25 879.64 L418.09 879.14 L418.47 878.98 L418.72 877.90 L418.16 876.77 L419.28 877.40 L418.69 876.67 L419.25 875.72 L419.43 874.99 L420.23 874.80 L420.43 874.79 L419.68 875.06 L420.13 874.31 L420.55 873.48 L420.44 873.41 L420.73 872.85 L421.09 872.69 L421.90 871.94 L421.07 870.71 L422.06 871.82 L422.80 870.85 L422.63 871.07 L423.00 870.94 L423.90 869.94 L423.88 868.91 L424.25 868.77 L425.33 868.72 L425.97 867.72 L425.93 869.31 L426.09 868.80 L427.25 868.94 L427.03 867.62 L426.97 866.84 L427.68 867.97 L427.91 866.60 L427.38 865.58 L428.30 865.60 L428.50 864.79 L428.40 864.74 L428.75 865.34 L429.46 864.95 L428.83 863.68 L429.69 864.41 L430.09 863.38 L430.59 862.92 L430.77 861.18 L430.21 862.20 L430.90 862.46 L429.95 861.27 L430.54 860.90 L431.16 860.34 L431.28 858.84 L430.68 858.83 L430.62 857.73 L431.23 857.84 L430.92 859.02 L431.27 857.01 L431.35 857.42 L431.22 857.05 L431.85 855.11 L431.42 856.30 L432.17 854.24 L432.59 853.84 L431.78 854.90 L431.77 853.78 L432.17 852.56 L432.88 854.01 L432.60 853.26 L432.49 852.41 L432.52 852.13 L432.97 851.06 L432.50 850.38 L433.22 850.84 L432.62 849.59 L432.40 849.27 L433.14 848.71 L432.81 847.86 L432.98 847.64 L432.47 848.37 L432.60 847.23 L433.23 847.17 L432.74 845.70 L432.90 845.45 L433.60 846.41 L433.07 845.72 L432.88 844.47 L433.83 844.03 L433.21 842.69 L433.79 842.49 L433.41 842.30 L433.70 841.25 L433.87 841.91 L433.85 841.96 L433.30 840.41 L433.11 840.77 L433.96 841.13 L433.57 839.62 L433.85 838.17 L433.37 839.39 L434.09 837.32 L434.27 837.76 L434.54 837.18 L433.79 837.83 L434.16 836.58 L434.48 835.92 L434.52 836.08 L434.19 834.55 L434.33 834.80 L434.65 833.08 L433.91 833.67 L434.43 834.20 L434.70 833.47 L434.95 832.74 L434.30 830.93 L434.71 830.74 L434.02 830.43 L434.24 829.78 L434.63 830.30 L434.14 829.67 L434.47 829.37 L434.28 827.88 L434.74 827.57 L434.86 827.16 L435.23 826.70 L434.78 827.96 L435.60 825.58 L435.26 825.17 L435.11 826.33 L434.75 826.20 L435.71 825.35 L435.68 825.32 L435.32 823.77 L435.21 824.31 L434.84 822.43 L435.01 821.86 L435.26 823.15 L436.10 821.32 L435.50 821.68 L435.46 819.83 L436.21 819.82 L436.28 819.69 L435.21 818.88 L435.29 819.94 L435.96 819.22 L436.29 817.56 L436.52 817.46 L436.51 817.32 L435.88 817.77 L436.35 816.75 L435.54 816.21 L436.48 815.84 L435.72 814.20 L436.30 813.45 L436.71 813.10 L436.94 813.39 L436.30 813.70 L436.34 811.93 L436.91 812.50 L436.31 812.74 L436.76 810.20 L436.79 811.35 L437.03 811.18 L437.09 810.30 L437.28 808.63 L436.31 809.46 L437.01 807.79 L437.41 807.65 L436.92 807.12 L437.51 807.19 L437.50 806.24 L437.16 806.77 L437.58 806.84 L437.23 805.89 L436.88 803.73 L436.80 804.71 L437.13 804.23 L437.75 803.14 L437.70 803.76 L437.50 802.34 L438.01 803.17 L437.01 801.80 L436.99 802.05 L437.75 799.71 L437.88 799.44 L437.20 800.16 L438.22 800.24 L438.22 799.18 L437.63 799.07 L438.21 798.66 L437.20 797.90 L437.96 796.67 L437.34 796.19 L437.33 795.95 L437.30 795.54 L437.46 795.69 L437.35 795.73 L438.01 794.54 L438.01 793.05 L438.02 793.43 L437.87 792.10 L438.06 793.21 L437.74 791.33 L437.42 792.40 L438.00 790.98 L437.40 790.40 L438.43 789.17 L437.79 789.55 L437.52 789.08 L438.47 787.74 L437.74 788.91 L437.61 787.39 L438.17 786.93 L438.17 787.52 L438.78 787.29 L437.65 786.16 L438.44 784.67 L438.74 784.21 L437.76 783.58 L438.21 785.39 L438.46 783.88 L438.18 782.38 L438.69 782.54 L438.67 783.08 L438.42 781.18 L438.10 782.50 L438.66 780.69 L437.98 781.79 L438.54 780.61 L439.02 779.77 L438.76 778.28 L438.98 778.36 L438.60 778.86 L439.05 777.06 L438.84 777.93 L439.33 777.59 L439.05 775.94 L438.57 776.84 L438.66 776.62 L439.01 776.29 L439.40 775.88 L438.81 774.98 L439.10 773.75 L438.93 774.13 L438.72 773.91 L438.66 772.55 L438.86 771.26 L439.23 770.51 L439.05 771.44 L439.26 771.41 L438.74 770.69 L438.69 769.39 L439.71 768.53 L439.44 768.03 L439.56 768.16 L439.78 768.89 L439.97 768.67 L440.03 766.86 L439.20 767.28 L439.53 765.79 L439.08 766.57 L439.83 766.22 L439.58 765.05 L439.64 764.08 L439.74 764.43 L440.33 763.96 L439.36 762.00 L439.63 763.59 L439.95 762.83 L439.54 760.96 L440.31 760.99 L439.66 759.63 L440.77 759.73 L440.08 760.38 L440.34 759.09 L440.24 759.37 L440.57 758.06 L440.54 757.32 L440.69 758.09 L440.57 755.97 L440.49 756.74 L440.95 755.85 L440.56 755.33 L440.48 756.10 L440.59 755.73 L441.20 754.43 L441.37 753.63 L441.07 754.32 L441.00 751.89 L441.55 753.41 L441.38 752.66 L441.81 751.18 L442.15 751.31 L441.54 749.89 L442.29 750.71 L442.22 749.72 L442.11 748.41 L442.25 748.49 L441.72 747.96 L442.43 747.45 L442.73 748.06 L441.79 746.89 L442.09 747.39 L442.44 746.72 L441.96 745.62 L442.90 744.64 L443.10 744.75 L442.73 745.13 L442.13 745.09 L442.81 743.24 L443.26 741.95 L442.95 741.73 L442.76 741.56 L442.69 741.57 L443.18 740.41 L442.52 741.05 L442.60 741.43 L442.85 739.17 L443.14 739.06 L442.72 739.89 L443.39 738.65 L443.11 737.43 L443.79 737.43 L443.34 737.77 L443.24 735.61 L443.37 736.95 L443.66 735.48 L443.71 734.18 L443.11 735.27 L444.05 734.17 L443.70 733.35 L443.77 733.09 L443.56 732.74 L444.02 733.57 L443.64 733.29 L443.72 731.56 L443.76 732.07 L443.57 731.16 L443.73 730.38 L443.89 730.81 L444.17 730.45 L444.19 728.53 L444.41 729.49 L444.30 728.78 L443.83 727.83 L444.47 727.88 L444.11 726.99 L444.42 726.81 L445.02 725.29 L444.69 725.92 L444.75 725.63 L445.10 724.08 L444.81 724.87 L444.67 724.19 L445.20 723.71 L444.92 726.04 L445.24 725.62 L444.82 725.00 L445.14 726.00 L445.20 726.70 L445.04 728.45 L444.63 727.03 L445.24 729.20 L444.78 728.71 L444.82 728.35 L444.94 730.70 L445.52 729.77 L445.28 730.83 L445.85 731.45 L445.27 732.71 L445.34 731.51 L445.55 731.95 L446.33 731.77 L446.32 732.81 L446.45 734.55 L446.26 733.11 L446.39 735.54 L446.21 735.40 L446.40 736.37 L446.43 735.69 L446.12 736.43 L447.34 737.13 L446.79 737.31 L448.14 736.93 L448.27 736.49 L448.74 738.04 L448.34 736.75 L448.74 737.21 L449.39 736.52 L449.11 736.37 L450.10 736.54 L449.64 735.85 L450.09 735.05 L450.70 734.56 L451.22 733.42 L450.86 733.05 L450.59 734.16 L450.91 735.03 L450.79 735.45 L451.44 734.06 L451.36 734.78 L451.81 735.12 L451.87 736.85 L451.21 735.84 L451.36 737.36 L452.02 738.12 L452.46 739.08 L452.57 738.85 L452.04 738.94 L452.64 738.31 L452.66 740.20 L452.52 740.29 L452.49 741.72 L453.25 740.31 L453.26 742.26 L452.78 743.26 L452.92 741.72 L452.86 742.98 L452.77 744.15 L452.79 745.05 L453.60 743.86 L453.55 744.20 L453.24 744.76 L453.12 745.69 L454.02 746.99 L453.15 747.69 L453.56 746.00 L453.76 748.17 L454.36 749.16 L453.56 748.95 L453.39 748.73 L454.29 749.17 L453.68 749.44 L454.60 750.43 L453.73 751.15 L453.97 751.09 L454.29 752.47 L454.93 752.04 L454.51 752.15 L454.43 754.24 L454.93 753.65 L455.00 753.61 L455.33 754.28 L455.30 755.06 L455.35 755.56 L454.79 755.58 L455.09 755.97 L455.67 755.58 L455.38 757.26 L454.93 758.14 L455.76 757.20 L455.99 757.45 L456.16 759.02 L455.54 760.31 L455.62 759.52 L455.70 761.00 L456.39 761.33 L455.87 761.85 L455.89 762.28 L455.85 762.34 L456.58 763.64 L456.12 763.21 L456.18 762.55 L455.84 764.98 L455.91 765.06 L455.99 765.36 L456.63 765.53 L456.76 764.63 L456.09 766.26 L456.53 766.20 L456.15 767.70 L456.28 766.54 L456.55 768.36 L457.01 769.12 L456.91 768.63 L457.00 768.56 L456.62 770.22 L456.57 770.72 L457.12 771.92 L457.34 772.25 L457.48 771.02 L457.12 772.43 L457.65 773.08 L457.06 773.51 L457.96 774.65 L458.05 773.83 L457.41 775.63 L457.36 774.17 L457.31 775.34 L458.08 775.19 L458.00 775.13 L458.19 776.52 L457.97 776.62 L457.49 776.96 L457.98 778.97 L458.73 778.05 L458.32 778.68 L458.24 778.57 L458.80 780.78 L458.98 781.09 L458.01 780.13 L458.80 780.33 L458.53 781.78 L458.42 782.62 L458.73 782.82 L459.22 782.14 L459.32 782.70 L458.96 784.53 L458.75 784.24 L459.40 783.93 L459.31 784.93 L459.03 785.37 L459.69 785.33 L459.03 786.42 L459.10 787.93 L459.17 786.83 L459.98 788.07 L460.23 787.25 L460.18 789.30 L459.78 789.08 L459.64 788.74 L459.74 791.05 L460.46 791.57 L459.70 792.06 L460.60 791.31 L459.93 791.50 L460.31 791.25 L459.96 792.97 L460.50 792.73 L460.71 792.97 L460.31 795.10 L460.52 793.77 L460.00 794.62 L460.58 796.06 L460.24 795.46 L461.08 797.00 L460.71 796.56 L460.60 796.70 L460.44 798.01 L460.76 798.52 L460.29 797.62 L460.36 798.96 L460.93 799.73 L461.31 800.37 L461.21 800.78 L461.36 800.05 L461.06 802.46 L461.05 802.66 L460.61 802.17 L461.31 802.73 L461.56 803.94 L461.66 803.73 L460.58 803.83 L461.24 804.41 L460.90 805.69 L461.53 804.35 L461.71 805.20 L460.89 806.55 L461.69 806.89 L461.94 806.63 L461.01 806.68 L461.68 808.42 L462.01 808.89 L460.99 808.38 L461.39 809.64 L461.47 809.75 L461.40 811.37 L461.79 811.36 L462.25 810.83 L461.57 811.21 L462.11 811.51 L461.76 813.16 L462.09 812.23 L462.09 813.20 L461.48 814.41 L462.51 813.40 L461.69 815.82 L462.15 814.72 L462.06 816.64 L461.85 817.38 L461.86 817.71 L463.02 817.43 L463.00 818.16 L463.10 817.72 L462.34 819.50 L463.16 819.63 L462.58 818.74 L462.86 820.53 L462.74 821.33 L462.47 820.65 L463.38 820.68 L463.46 821.10 L463.12 822.85 L462.49 822.10 L463.53 822.10 L463.75 824.57 L463.77 823.39 L463.14 824.22 L463.73 825.80 L463.15 825.69 L463.08 824.77 L463.14 825.60 L463.34 826.78 L464.07 826.38 L463.07 827.19 L463.78 826.78 L463.84 827.28 L463.79 827.72 L463.93 829.59 L464.34 829.07 L464.36 831.34 L464.61 831.69 L464.15 830.78 L464.49 831.34 L463.87 831.20 L464.32 832.33 L464.14 834.08 L464.27 832.16 L463.98 834.70 L464.66 834.29 L464.40 835.51 L465.21 835.40 L464.82 836.73 L464.99 835.65 L465.09 837.04 L464.80 837.36 L464.83 837.91 L464.60 837.19 L464.75 838.41 L464.97 838.21 L465.18 838.88 L465.38 840.77 L465.29 840.20 L465.86 840.64 L465.56 841.03 L465.24 841.07 L465.19 841.19 L465.20 841.81 L465.90 842.57 L466.19 842.30 L466.10 843.56 L466.37 843.95 L465.63 845.00 L465.87 845.14 L466.07 846.06 L465.73 845.26 L465.90 847.53 L466.94 846.22 L466.38 846.19 L466.77 847.55 L467.19 848.84 L466.19 848.18 L466.17 848.38 L466.97 848.96 L466.41 850.91 L467.43 849.85 L466.91 851.07 L466.56 850.28 L467.30 851.08 L467.23 851.14 L466.70 853.42 L467.26 852.59 L467.72 853.81 L467.42 854.43 L467.74 854.06 L468.18 854.81 L467.86 855.42 L467.82 856.20 L468.12 856.24 L468.61 856.95 L468.09 856.69 L468.55 858.75 L468.03 858.19 L468.25 857.74 L468.35 858.79 L468.49 858.83 L468.12 860.04 L468.94 860.70 L468.47 860.04 L468.82 860.11 L468.83 862.09 L469.15 862.34 L468.57 861.48 L469.70 863.04 L469.21 863.97 L468.92 863.35 L469.76 864.73 L469.03 864.57 L469.86 864.75 L469.58 866.38 L469.65 867.11 L469.51 865.49 L470.20 868.02 L469.78 866.55 L470.10 867.74 L470.71 867.30 L470.01 868.97 L470.46 868.22 L470.72 870.83 L470.99 871.11 L470.10 871.09 L470.81 870.70 L470.46 871.40 L471.35 871.00 L470.78 872.88 L471.58 872.85 L471.39 872.51 L471.84 873.16 L472.00 874.96 L471.58 874.40 L471.50 874.69 L472.35 876.65 L472.39 877.19 L472.20 876.41 L472.04 877.86 L472.59 878.33 L472.17 877.24 L472.05 878.66 L472.19 878.05 L473.16 878.14 L473.16 880.71 L473.19 879.97 L472.93 880.85 L472.85 880.82 L473.41 880.53 L474.09 881.18 L473.89 881.27 L474.84 883.17 L475.13 883.68 L475.09 882.28 L475.77 884.19 L475.68 883.11 L475.41 884.35 L476.59 883.89 L476.54 885.28 L476.93 885.42 L476.70 885.26 L477.83 886.58 L478.26 885.98 L478.60 887.07 L479.36 887.16 L479.76 885.46 L480.00 886.59 L479.62 887.41 L480.04 887.19 L480.77 887.68 L481.13 886.96 L482.00 888.14 L482.56 887.06 L483.06 886.92 L483.45 888.07 L484.15 888.24 L483.96 888.57 L484.53 888.46 L484.66 887.88 L485.72 889.26 L486.01 889.80 L486.11 888.84 L486.86 889.47 L487.42 890.17 L487.32 889.01 L488.33 888.40 L488.35 889.41 L488.91 888.77 L489.13 890.68 L490.07 890.49 L490.35 890.46 L490.86 889.83 L491.57 890.60 L491.45 890.62 L492.13 891.43 L492.58 890.63 L492.65 890.48 L493.31 891.77 L493.57 891.77 L494.03 891.43 L494.73 892.03 L495.03 891.63 L495.36 891.56 L495.87 892.28 L496.36 891.76 L497.12 892.30 L497.25 892.39 L497.85 893.06 L498.13 892.68 L498.47 892.58 L499.12 892.90 L499.49 892.72 L499.98 892.90 L500.44 893.14 L500.79 893.54 L501.13 893.39 L501.73 893.40 L502.04 893.84 L502.68 894.01 L503.03 893.83 L503.43 894.06 L503.90 894.10 L504.37 894.16 L504.84 894.23 L505.31 894.29 L505.79 894.36 L506.26 894.42 L506.73 894.49 L507.20 894.55 L507.67 894.61 L508.14 894.68 L508.61 894.74 L509.09 894.81 L509.56 894.87 L510.03 894.94 L510.50 895.00 L510.96 895.00 L511.42 895.00 L511.88 895.00 L512.33 895.00 L512.79 895.00 L513.25 895.00 L513.71 895.00 L514.17 895.00 L514.62 895.00 L515.08 895.00 L515.54 895.00 L516.00 895.00" fill="none" stroke="#d41818" stroke-width="1.3" stroke-linejoin="round" stroke-opacity="1"/>
</svg>
</body></html>
